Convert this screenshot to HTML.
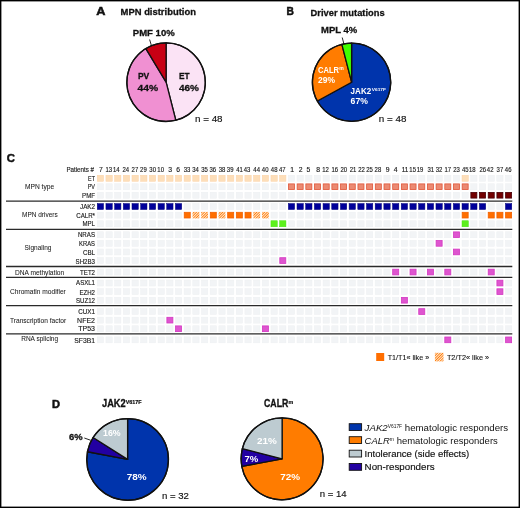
<!DOCTYPE html>
<html><head><meta charset="utf-8"><style>
html,body{margin:0;padding:0;background:#fff;}
body{width:520px;height:508px;overflow:hidden;}
svg{display:block;will-change:transform;}
</style></head><body>
<svg width="520" height="508" viewBox="0 0 520 508" font-family="Liberation Sans, sans-serif">
<rect x="0" y="0" width="520" height="508" fill="#fff"/>
<text x="96.2" y="15.2" font-size="11.0" font-weight="bold" text-anchor="start" fill="#111" stroke="#111" stroke-width="0.5" textLength="9.2" lengthAdjust="spacingAndGlyphs" >A</text>
<text x="120.6" y="14.9" font-size="9.9" font-weight="bold" text-anchor="start" fill="#111" stroke="#111" stroke-width="0.3" textLength="75.3" lengthAdjust="spacingAndGlyphs" >MPN distribution</text>
<path d="M166.10,82.20L166.10,42.95A39.25,39.25 0 0 1 175.79,120.23Z" fill="#fbe3f5" stroke="#111" stroke-width="1.3" stroke-linejoin="round"/>
<path d="M166.10,82.20L175.79,120.23A39.25,39.25 0 0 1 145.88,48.56Z" fill="#f090d2" stroke="#111" stroke-width="1.3" stroke-linejoin="round"/>
<path d="M166.10,82.20L145.88,48.56A39.25,39.25 0 0 1 166.10,42.95Z" fill="#c80014" stroke="#111" stroke-width="1.3" stroke-linejoin="round"/>
<circle cx="166.1" cy="82.2" r="39.25" fill="none" stroke="#111" stroke-width="1.3"/>
<text x="132.8" y="36.4" font-size="9.2" font-weight="bold" text-anchor="start" fill="#111" stroke="#111" stroke-width="0.3" textLength="41.9" lengthAdjust="spacingAndGlyphs" >PMF 10%</text>
<line x1="149.6" y1="39.5" x2="151.4" y2="45.5" stroke="#111" stroke-width="0.9"/>
<text x="137.9" y="79.4" font-size="9.8" font-weight="bold" text-anchor="start" fill="#111" stroke="#111" stroke-width="0.3" textLength="11.4" lengthAdjust="spacingAndGlyphs" >PV</text>
<text x="137.6" y="90.6" font-size="9.8" font-weight="bold" text-anchor="start" fill="#111" stroke="#111" stroke-width="0.3" textLength="20.6" lengthAdjust="spacingAndGlyphs" >44%</text>
<text x="179.0" y="79.4" font-size="9.8" font-weight="bold" text-anchor="start" fill="#111" stroke="#111" stroke-width="0.3" textLength="10.6" lengthAdjust="spacingAndGlyphs" >ET</text>
<text x="178.9" y="90.6" font-size="9.8" font-weight="bold" text-anchor="start" fill="#111" stroke="#111" stroke-width="0.3" textLength="20.0" lengthAdjust="spacingAndGlyphs" >46%</text>
<text x="195.0" y="121.8" font-size="9.6" font-weight="normal" text-anchor="start" fill="#111" stroke="#111" stroke-width="0.15" textLength="27.6" lengthAdjust="spacingAndGlyphs" >n = 48</text>
<text x="286.4" y="15.2" font-size="11.0" font-weight="bold" text-anchor="start" fill="#111" stroke="#111" stroke-width="0.5" textLength="7.4" lengthAdjust="spacingAndGlyphs" >B</text>
<text x="310.6" y="16.2" font-size="9.9" font-weight="bold" text-anchor="start" fill="#111" stroke="#111" stroke-width="0.3" textLength="74.0" lengthAdjust="spacingAndGlyphs" >Driver mutations</text>
<path d="M351.60,82.20L351.60,43.10A39.1,39.1 0 1 1 317.34,101.04Z" fill="#0034ac" stroke="#111" stroke-width="1.3" stroke-linejoin="round"/>
<path d="M351.60,82.20L317.34,101.04A39.1,39.1 0 0 1 341.88,44.33Z" fill="#ff7c00" stroke="#111" stroke-width="1.3" stroke-linejoin="round"/>
<path d="M351.60,82.20L341.88,44.33A39.1,39.1 0 0 1 351.60,43.10Z" fill="#40ff00" stroke="#111" stroke-width="1.3" stroke-linejoin="round"/>
<circle cx="351.6" cy="82.2" r="39.1" fill="none" stroke="#111" stroke-width="1.3"/>
<text x="321.1" y="33.3" font-size="9.6" font-weight="bold" text-anchor="start" fill="#111" stroke="#111" stroke-width="0.3" textLength="36.2" lengthAdjust="spacingAndGlyphs" >MPL 4%</text>
<line x1="342.2" y1="37.5" x2="344" y2="44.2" stroke="#111" stroke-width="0.9"/>
<text x="318.0" y="72.7" font-size="8.9" font-weight="bold" text-anchor="start" fill="#fff" textLength="21.0" lengthAdjust="spacingAndGlyphs" >CALR</text>
<text x="339.2" y="69.6" font-size="4.6" font-weight="bold" text-anchor="start" fill="#fff" textLength="4.5" lengthAdjust="spacingAndGlyphs" >m</text>
<text x="318.0" y="82.5" font-size="8.9" font-weight="bold" text-anchor="start" fill="#fff" textLength="17.0" lengthAdjust="spacingAndGlyphs" >29%</text>
<text x="350.6" y="93.7" font-size="8.9" font-weight="bold" text-anchor="start" fill="#fff" textLength="20.6" lengthAdjust="spacingAndGlyphs" >JAK2</text>
<text x="371.8" y="90.7" font-size="4.4" font-weight="bold" text-anchor="start" fill="#fff" textLength="14.2" lengthAdjust="spacingAndGlyphs" >V617F</text>
<text x="350.6" y="103.9" font-size="8.9" font-weight="bold" text-anchor="start" fill="#fff" textLength="17.3" lengthAdjust="spacingAndGlyphs" >67%</text>
<text x="378.8" y="122.1" font-size="9.6" font-weight="normal" text-anchor="start" fill="#111" stroke="#111" stroke-width="0.15" textLength="27.6" lengthAdjust="spacingAndGlyphs" >n = 48</text>
<text x="6.8" y="161.9" font-size="11.3" font-weight="bold" text-anchor="start" fill="#111" stroke="#111" stroke-width="0.5" textLength="8.2" lengthAdjust="spacingAndGlyphs" >C</text>
<defs><pattern id="hatch" patternUnits="userSpaceOnUse" width="1.85" height="1.85" patternTransform="rotate(45)"><rect width="1.85" height="1.85" fill="#ffeedd"/><rect width="0.95" height="1.85" fill="#ff8010"/></pattern></defs>
<rect x="97.25" y="175.25" width="6.30" height="6.00" fill="#fddeb9" stroke="#fcd2a6" stroke-width="0.5"/>
<rect x="105.94" y="175.25" width="6.30" height="6.00" fill="#fddeb9" stroke="#fcd2a6" stroke-width="0.5"/>
<rect x="114.62" y="175.25" width="6.30" height="6.00" fill="#fddeb9" stroke="#fcd2a6" stroke-width="0.5"/>
<rect x="123.31" y="175.25" width="6.30" height="6.00" fill="#fddeb9" stroke="#fcd2a6" stroke-width="0.5"/>
<rect x="131.99" y="175.25" width="6.30" height="6.00" fill="#fddeb9" stroke="#fcd2a6" stroke-width="0.5"/>
<rect x="140.68" y="175.25" width="6.30" height="6.00" fill="#fddeb9" stroke="#fcd2a6" stroke-width="0.5"/>
<rect x="149.36" y="175.25" width="6.30" height="6.00" fill="#fddeb9" stroke="#fcd2a6" stroke-width="0.5"/>
<rect x="158.05" y="175.25" width="6.30" height="6.00" fill="#fddeb9" stroke="#fcd2a6" stroke-width="0.5"/>
<rect x="166.73" y="175.25" width="6.30" height="6.00" fill="#fddeb9" stroke="#fcd2a6" stroke-width="0.5"/>
<rect x="175.42" y="175.25" width="6.30" height="6.00" fill="#fddeb9" stroke="#fcd2a6" stroke-width="0.5"/>
<rect x="184.10" y="175.25" width="6.30" height="6.00" fill="#fddeb9" stroke="#fcd2a6" stroke-width="0.5"/>
<rect x="192.79" y="175.25" width="6.30" height="6.00" fill="#fddeb9" stroke="#fcd2a6" stroke-width="0.5"/>
<rect x="201.47" y="175.25" width="6.30" height="6.00" fill="#fddeb9" stroke="#fcd2a6" stroke-width="0.5"/>
<rect x="210.16" y="175.25" width="6.30" height="6.00" fill="#fddeb9" stroke="#fcd2a6" stroke-width="0.5"/>
<rect x="218.84" y="175.25" width="6.30" height="6.00" fill="#fddeb9" stroke="#fcd2a6" stroke-width="0.5"/>
<rect x="227.53" y="175.25" width="6.30" height="6.00" fill="#fddeb9" stroke="#fcd2a6" stroke-width="0.5"/>
<rect x="236.21" y="175.25" width="6.30" height="6.00" fill="#fddeb9" stroke="#fcd2a6" stroke-width="0.5"/>
<rect x="244.90" y="175.25" width="6.30" height="6.00" fill="#fddeb9" stroke="#fcd2a6" stroke-width="0.5"/>
<rect x="253.58" y="175.25" width="6.30" height="6.00" fill="#fddeb9" stroke="#fcd2a6" stroke-width="0.5"/>
<rect x="262.26" y="175.25" width="6.30" height="6.00" fill="#fddeb9" stroke="#fcd2a6" stroke-width="0.5"/>
<rect x="270.95" y="175.25" width="6.30" height="6.00" fill="#fddeb9" stroke="#fcd2a6" stroke-width="0.5"/>
<rect x="279.63" y="175.25" width="6.30" height="6.00" fill="#fddeb9" stroke="#fcd2a6" stroke-width="0.5"/>
<rect x="288.32" y="175.25" width="6.30" height="6.00" fill="#f2f4f6" stroke="#edf0f2" stroke-width="0.5"/>
<rect x="297.00" y="175.25" width="6.30" height="6.00" fill="#f2f4f6" stroke="#edf0f2" stroke-width="0.5"/>
<rect x="305.69" y="175.25" width="6.30" height="6.00" fill="#f2f4f6" stroke="#edf0f2" stroke-width="0.5"/>
<rect x="314.38" y="175.25" width="6.30" height="6.00" fill="#f2f4f6" stroke="#edf0f2" stroke-width="0.5"/>
<rect x="323.06" y="175.25" width="6.30" height="6.00" fill="#f2f4f6" stroke="#edf0f2" stroke-width="0.5"/>
<rect x="331.75" y="175.25" width="6.30" height="6.00" fill="#f2f4f6" stroke="#edf0f2" stroke-width="0.5"/>
<rect x="340.43" y="175.25" width="6.30" height="6.00" fill="#f2f4f6" stroke="#edf0f2" stroke-width="0.5"/>
<rect x="349.12" y="175.25" width="6.30" height="6.00" fill="#f2f4f6" stroke="#edf0f2" stroke-width="0.5"/>
<rect x="357.80" y="175.25" width="6.30" height="6.00" fill="#f2f4f6" stroke="#edf0f2" stroke-width="0.5"/>
<rect x="366.49" y="175.25" width="6.30" height="6.00" fill="#f2f4f6" stroke="#edf0f2" stroke-width="0.5"/>
<rect x="375.17" y="175.25" width="6.30" height="6.00" fill="#f2f4f6" stroke="#edf0f2" stroke-width="0.5"/>
<rect x="383.86" y="175.25" width="6.30" height="6.00" fill="#f2f4f6" stroke="#edf0f2" stroke-width="0.5"/>
<rect x="392.54" y="175.25" width="6.30" height="6.00" fill="#f2f4f6" stroke="#edf0f2" stroke-width="0.5"/>
<rect x="401.23" y="175.25" width="6.30" height="6.00" fill="#f2f4f6" stroke="#edf0f2" stroke-width="0.5"/>
<rect x="409.91" y="175.25" width="6.30" height="6.00" fill="#f2f4f6" stroke="#edf0f2" stroke-width="0.5"/>
<rect x="418.60" y="175.25" width="6.30" height="6.00" fill="#f2f4f6" stroke="#edf0f2" stroke-width="0.5"/>
<rect x="427.28" y="175.25" width="6.30" height="6.00" fill="#f2f4f6" stroke="#edf0f2" stroke-width="0.5"/>
<rect x="435.97" y="175.25" width="6.30" height="6.00" fill="#f2f4f6" stroke="#edf0f2" stroke-width="0.5"/>
<rect x="444.65" y="175.25" width="6.30" height="6.00" fill="#f2f4f6" stroke="#edf0f2" stroke-width="0.5"/>
<rect x="453.34" y="175.25" width="6.30" height="6.00" fill="#f2f4f6" stroke="#edf0f2" stroke-width="0.5"/>
<rect x="462.02" y="175.25" width="6.30" height="6.00" fill="#fddeb9" stroke="#fcd2a6" stroke-width="0.5"/>
<rect x="470.71" y="175.25" width="6.30" height="6.00" fill="#f2f4f6" stroke="#edf0f2" stroke-width="0.5"/>
<rect x="479.39" y="175.25" width="6.30" height="6.00" fill="#f2f4f6" stroke="#edf0f2" stroke-width="0.5"/>
<rect x="488.08" y="175.25" width="6.30" height="6.00" fill="#f2f4f6" stroke="#edf0f2" stroke-width="0.5"/>
<rect x="496.76" y="175.25" width="6.30" height="6.00" fill="#f2f4f6" stroke="#edf0f2" stroke-width="0.5"/>
<rect x="505.45" y="175.25" width="6.30" height="6.00" fill="#f2f4f6" stroke="#edf0f2" stroke-width="0.5"/>
<rect x="97.25" y="183.75" width="6.30" height="6.00" fill="#f2f4f6" stroke="#edf0f2" stroke-width="0.5"/>
<rect x="105.94" y="183.75" width="6.30" height="6.00" fill="#f2f4f6" stroke="#edf0f2" stroke-width="0.5"/>
<rect x="114.62" y="183.75" width="6.30" height="6.00" fill="#f2f4f6" stroke="#edf0f2" stroke-width="0.5"/>
<rect x="123.31" y="183.75" width="6.30" height="6.00" fill="#f2f4f6" stroke="#edf0f2" stroke-width="0.5"/>
<rect x="131.99" y="183.75" width="6.30" height="6.00" fill="#f2f4f6" stroke="#edf0f2" stroke-width="0.5"/>
<rect x="140.68" y="183.75" width="6.30" height="6.00" fill="#f2f4f6" stroke="#edf0f2" stroke-width="0.5"/>
<rect x="149.36" y="183.75" width="6.30" height="6.00" fill="#f2f4f6" stroke="#edf0f2" stroke-width="0.5"/>
<rect x="158.05" y="183.75" width="6.30" height="6.00" fill="#f2f4f6" stroke="#edf0f2" stroke-width="0.5"/>
<rect x="166.73" y="183.75" width="6.30" height="6.00" fill="#f2f4f6" stroke="#edf0f2" stroke-width="0.5"/>
<rect x="175.42" y="183.75" width="6.30" height="6.00" fill="#f2f4f6" stroke="#edf0f2" stroke-width="0.5"/>
<rect x="184.10" y="183.75" width="6.30" height="6.00" fill="#f2f4f6" stroke="#edf0f2" stroke-width="0.5"/>
<rect x="192.79" y="183.75" width="6.30" height="6.00" fill="#f2f4f6" stroke="#edf0f2" stroke-width="0.5"/>
<rect x="201.47" y="183.75" width="6.30" height="6.00" fill="#f2f4f6" stroke="#edf0f2" stroke-width="0.5"/>
<rect x="210.16" y="183.75" width="6.30" height="6.00" fill="#f2f4f6" stroke="#edf0f2" stroke-width="0.5"/>
<rect x="218.84" y="183.75" width="6.30" height="6.00" fill="#f2f4f6" stroke="#edf0f2" stroke-width="0.5"/>
<rect x="227.53" y="183.75" width="6.30" height="6.00" fill="#f2f4f6" stroke="#edf0f2" stroke-width="0.5"/>
<rect x="236.21" y="183.75" width="6.30" height="6.00" fill="#f2f4f6" stroke="#edf0f2" stroke-width="0.5"/>
<rect x="244.90" y="183.75" width="6.30" height="6.00" fill="#f2f4f6" stroke="#edf0f2" stroke-width="0.5"/>
<rect x="253.58" y="183.75" width="6.30" height="6.00" fill="#f2f4f6" stroke="#edf0f2" stroke-width="0.5"/>
<rect x="262.26" y="183.75" width="6.30" height="6.00" fill="#f2f4f6" stroke="#edf0f2" stroke-width="0.5"/>
<rect x="270.95" y="183.75" width="6.30" height="6.00" fill="#f2f4f6" stroke="#edf0f2" stroke-width="0.5"/>
<rect x="279.63" y="183.75" width="6.30" height="6.00" fill="#f2f4f6" stroke="#edf0f2" stroke-width="0.5"/>
<rect x="288.47" y="183.90" width="6.00" height="5.70" fill="#eb8a72" stroke="#e05538" stroke-width="0.8"/>
<rect x="297.15" y="183.90" width="6.00" height="5.70" fill="#eb8a72" stroke="#e05538" stroke-width="0.8"/>
<rect x="305.84" y="183.90" width="6.00" height="5.70" fill="#eb8a72" stroke="#e05538" stroke-width="0.8"/>
<rect x="314.52" y="183.90" width="6.00" height="5.70" fill="#eb8a72" stroke="#e05538" stroke-width="0.8"/>
<rect x="323.21" y="183.90" width="6.00" height="5.70" fill="#eb8a72" stroke="#e05538" stroke-width="0.8"/>
<rect x="331.89" y="183.90" width="6.00" height="5.70" fill="#eb8a72" stroke="#e05538" stroke-width="0.8"/>
<rect x="340.58" y="183.90" width="6.00" height="5.70" fill="#eb8a72" stroke="#e05538" stroke-width="0.8"/>
<rect x="349.26" y="183.90" width="6.00" height="5.70" fill="#eb8a72" stroke="#e05538" stroke-width="0.8"/>
<rect x="357.95" y="183.90" width="6.00" height="5.70" fill="#eb8a72" stroke="#e05538" stroke-width="0.8"/>
<rect x="366.63" y="183.90" width="6.00" height="5.70" fill="#eb8a72" stroke="#e05538" stroke-width="0.8"/>
<rect x="375.32" y="183.90" width="6.00" height="5.70" fill="#eb8a72" stroke="#e05538" stroke-width="0.8"/>
<rect x="384.00" y="183.90" width="6.00" height="5.70" fill="#eb8a72" stroke="#e05538" stroke-width="0.8"/>
<rect x="392.69" y="183.90" width="6.00" height="5.70" fill="#eb8a72" stroke="#e05538" stroke-width="0.8"/>
<rect x="401.38" y="183.90" width="6.00" height="5.70" fill="#eb8a72" stroke="#e05538" stroke-width="0.8"/>
<rect x="410.06" y="183.90" width="6.00" height="5.70" fill="#eb8a72" stroke="#e05538" stroke-width="0.8"/>
<rect x="418.75" y="183.90" width="6.00" height="5.70" fill="#eb8a72" stroke="#e05538" stroke-width="0.8"/>
<rect x="427.43" y="183.90" width="6.00" height="5.70" fill="#eb8a72" stroke="#e05538" stroke-width="0.8"/>
<rect x="436.12" y="183.90" width="6.00" height="5.70" fill="#eb8a72" stroke="#e05538" stroke-width="0.8"/>
<rect x="444.80" y="183.90" width="6.00" height="5.70" fill="#eb8a72" stroke="#e05538" stroke-width="0.8"/>
<rect x="453.49" y="183.90" width="6.00" height="5.70" fill="#eb8a72" stroke="#e05538" stroke-width="0.8"/>
<rect x="462.17" y="183.90" width="6.00" height="5.70" fill="#eb8a72" stroke="#e05538" stroke-width="0.8"/>
<rect x="470.71" y="183.75" width="6.30" height="6.00" fill="#f2f4f6" stroke="#edf0f2" stroke-width="0.5"/>
<rect x="479.39" y="183.75" width="6.30" height="6.00" fill="#f2f4f6" stroke="#edf0f2" stroke-width="0.5"/>
<rect x="488.08" y="183.75" width="6.30" height="6.00" fill="#f2f4f6" stroke="#edf0f2" stroke-width="0.5"/>
<rect x="496.76" y="183.75" width="6.30" height="6.00" fill="#f2f4f6" stroke="#edf0f2" stroke-width="0.5"/>
<rect x="505.45" y="183.75" width="6.30" height="6.00" fill="#f2f4f6" stroke="#edf0f2" stroke-width="0.5"/>
<rect x="97.25" y="192.25" width="6.30" height="6.00" fill="#f2f4f6" stroke="#edf0f2" stroke-width="0.5"/>
<rect x="105.94" y="192.25" width="6.30" height="6.00" fill="#f2f4f6" stroke="#edf0f2" stroke-width="0.5"/>
<rect x="114.62" y="192.25" width="6.30" height="6.00" fill="#f2f4f6" stroke="#edf0f2" stroke-width="0.5"/>
<rect x="123.31" y="192.25" width="6.30" height="6.00" fill="#f2f4f6" stroke="#edf0f2" stroke-width="0.5"/>
<rect x="131.99" y="192.25" width="6.30" height="6.00" fill="#f2f4f6" stroke="#edf0f2" stroke-width="0.5"/>
<rect x="140.68" y="192.25" width="6.30" height="6.00" fill="#f2f4f6" stroke="#edf0f2" stroke-width="0.5"/>
<rect x="149.36" y="192.25" width="6.30" height="6.00" fill="#f2f4f6" stroke="#edf0f2" stroke-width="0.5"/>
<rect x="158.05" y="192.25" width="6.30" height="6.00" fill="#f2f4f6" stroke="#edf0f2" stroke-width="0.5"/>
<rect x="166.73" y="192.25" width="6.30" height="6.00" fill="#f2f4f6" stroke="#edf0f2" stroke-width="0.5"/>
<rect x="175.42" y="192.25" width="6.30" height="6.00" fill="#f2f4f6" stroke="#edf0f2" stroke-width="0.5"/>
<rect x="184.10" y="192.25" width="6.30" height="6.00" fill="#f2f4f6" stroke="#edf0f2" stroke-width="0.5"/>
<rect x="192.79" y="192.25" width="6.30" height="6.00" fill="#f2f4f6" stroke="#edf0f2" stroke-width="0.5"/>
<rect x="201.47" y="192.25" width="6.30" height="6.00" fill="#f2f4f6" stroke="#edf0f2" stroke-width="0.5"/>
<rect x="210.16" y="192.25" width="6.30" height="6.00" fill="#f2f4f6" stroke="#edf0f2" stroke-width="0.5"/>
<rect x="218.84" y="192.25" width="6.30" height="6.00" fill="#f2f4f6" stroke="#edf0f2" stroke-width="0.5"/>
<rect x="227.53" y="192.25" width="6.30" height="6.00" fill="#f2f4f6" stroke="#edf0f2" stroke-width="0.5"/>
<rect x="236.21" y="192.25" width="6.30" height="6.00" fill="#f2f4f6" stroke="#edf0f2" stroke-width="0.5"/>
<rect x="244.90" y="192.25" width="6.30" height="6.00" fill="#f2f4f6" stroke="#edf0f2" stroke-width="0.5"/>
<rect x="253.58" y="192.25" width="6.30" height="6.00" fill="#f2f4f6" stroke="#edf0f2" stroke-width="0.5"/>
<rect x="262.26" y="192.25" width="6.30" height="6.00" fill="#f2f4f6" stroke="#edf0f2" stroke-width="0.5"/>
<rect x="270.95" y="192.25" width="6.30" height="6.00" fill="#f2f4f6" stroke="#edf0f2" stroke-width="0.5"/>
<rect x="279.63" y="192.25" width="6.30" height="6.00" fill="#f2f4f6" stroke="#edf0f2" stroke-width="0.5"/>
<rect x="288.32" y="192.25" width="6.30" height="6.00" fill="#f2f4f6" stroke="#edf0f2" stroke-width="0.5"/>
<rect x="297.00" y="192.25" width="6.30" height="6.00" fill="#f2f4f6" stroke="#edf0f2" stroke-width="0.5"/>
<rect x="305.69" y="192.25" width="6.30" height="6.00" fill="#f2f4f6" stroke="#edf0f2" stroke-width="0.5"/>
<rect x="314.38" y="192.25" width="6.30" height="6.00" fill="#f2f4f6" stroke="#edf0f2" stroke-width="0.5"/>
<rect x="323.06" y="192.25" width="6.30" height="6.00" fill="#f2f4f6" stroke="#edf0f2" stroke-width="0.5"/>
<rect x="331.75" y="192.25" width="6.30" height="6.00" fill="#f2f4f6" stroke="#edf0f2" stroke-width="0.5"/>
<rect x="340.43" y="192.25" width="6.30" height="6.00" fill="#f2f4f6" stroke="#edf0f2" stroke-width="0.5"/>
<rect x="349.12" y="192.25" width="6.30" height="6.00" fill="#f2f4f6" stroke="#edf0f2" stroke-width="0.5"/>
<rect x="357.80" y="192.25" width="6.30" height="6.00" fill="#f2f4f6" stroke="#edf0f2" stroke-width="0.5"/>
<rect x="366.49" y="192.25" width="6.30" height="6.00" fill="#f2f4f6" stroke="#edf0f2" stroke-width="0.5"/>
<rect x="375.17" y="192.25" width="6.30" height="6.00" fill="#f2f4f6" stroke="#edf0f2" stroke-width="0.5"/>
<rect x="383.86" y="192.25" width="6.30" height="6.00" fill="#f2f4f6" stroke="#edf0f2" stroke-width="0.5"/>
<rect x="392.54" y="192.25" width="6.30" height="6.00" fill="#f2f4f6" stroke="#edf0f2" stroke-width="0.5"/>
<rect x="401.23" y="192.25" width="6.30" height="6.00" fill="#f2f4f6" stroke="#edf0f2" stroke-width="0.5"/>
<rect x="409.91" y="192.25" width="6.30" height="6.00" fill="#f2f4f6" stroke="#edf0f2" stroke-width="0.5"/>
<rect x="418.60" y="192.25" width="6.30" height="6.00" fill="#f2f4f6" stroke="#edf0f2" stroke-width="0.5"/>
<rect x="427.28" y="192.25" width="6.30" height="6.00" fill="#f2f4f6" stroke="#edf0f2" stroke-width="0.5"/>
<rect x="435.97" y="192.25" width="6.30" height="6.00" fill="#f2f4f6" stroke="#edf0f2" stroke-width="0.5"/>
<rect x="444.65" y="192.25" width="6.30" height="6.00" fill="#f2f4f6" stroke="#edf0f2" stroke-width="0.5"/>
<rect x="453.34" y="192.25" width="6.30" height="6.00" fill="#f2f4f6" stroke="#edf0f2" stroke-width="0.5"/>
<rect x="462.02" y="192.25" width="6.30" height="6.00" fill="#f2f4f6" stroke="#edf0f2" stroke-width="0.5"/>
<rect x="470.86" y="192.40" width="6.00" height="5.70" fill="#730000" stroke="#4a0008" stroke-width="0.8"/>
<rect x="479.54" y="192.40" width="6.00" height="5.70" fill="#730000" stroke="#4a0008" stroke-width="0.8"/>
<rect x="488.23" y="192.40" width="6.00" height="5.70" fill="#730000" stroke="#4a0008" stroke-width="0.8"/>
<rect x="496.91" y="192.40" width="6.00" height="5.70" fill="#730000" stroke="#4a0008" stroke-width="0.8"/>
<rect x="505.60" y="192.40" width="6.00" height="5.70" fill="#730000" stroke="#4a0008" stroke-width="0.8"/>
<rect x="97.25" y="203.55" width="6.30" height="6.00" fill="#00009a" stroke="#00007a" stroke-width="0.5"/>
<rect x="105.94" y="203.55" width="6.30" height="6.00" fill="#00009a" stroke="#00007a" stroke-width="0.5"/>
<rect x="114.62" y="203.55" width="6.30" height="6.00" fill="#00009a" stroke="#00007a" stroke-width="0.5"/>
<rect x="123.31" y="203.55" width="6.30" height="6.00" fill="#00009a" stroke="#00007a" stroke-width="0.5"/>
<rect x="131.99" y="203.55" width="6.30" height="6.00" fill="#00009a" stroke="#00007a" stroke-width="0.5"/>
<rect x="140.68" y="203.55" width="6.30" height="6.00" fill="#00009a" stroke="#00007a" stroke-width="0.5"/>
<rect x="149.36" y="203.55" width="6.30" height="6.00" fill="#00009a" stroke="#00007a" stroke-width="0.5"/>
<rect x="158.05" y="203.55" width="6.30" height="6.00" fill="#00009a" stroke="#00007a" stroke-width="0.5"/>
<rect x="166.73" y="203.55" width="6.30" height="6.00" fill="#00009a" stroke="#00007a" stroke-width="0.5"/>
<rect x="175.42" y="203.55" width="6.30" height="6.00" fill="#00009a" stroke="#00007a" stroke-width="0.5"/>
<rect x="184.10" y="203.55" width="6.30" height="6.00" fill="#f2f4f6" stroke="#edf0f2" stroke-width="0.5"/>
<rect x="192.79" y="203.55" width="6.30" height="6.00" fill="#f2f4f6" stroke="#edf0f2" stroke-width="0.5"/>
<rect x="201.47" y="203.55" width="6.30" height="6.00" fill="#f2f4f6" stroke="#edf0f2" stroke-width="0.5"/>
<rect x="210.16" y="203.55" width="6.30" height="6.00" fill="#f2f4f6" stroke="#edf0f2" stroke-width="0.5"/>
<rect x="218.84" y="203.55" width="6.30" height="6.00" fill="#f2f4f6" stroke="#edf0f2" stroke-width="0.5"/>
<rect x="227.53" y="203.55" width="6.30" height="6.00" fill="#f2f4f6" stroke="#edf0f2" stroke-width="0.5"/>
<rect x="236.21" y="203.55" width="6.30" height="6.00" fill="#f2f4f6" stroke="#edf0f2" stroke-width="0.5"/>
<rect x="244.90" y="203.55" width="6.30" height="6.00" fill="#f2f4f6" stroke="#edf0f2" stroke-width="0.5"/>
<rect x="253.58" y="203.55" width="6.30" height="6.00" fill="#f2f4f6" stroke="#edf0f2" stroke-width="0.5"/>
<rect x="262.26" y="203.55" width="6.30" height="6.00" fill="#f2f4f6" stroke="#edf0f2" stroke-width="0.5"/>
<rect x="270.95" y="203.55" width="6.30" height="6.00" fill="#f2f4f6" stroke="#edf0f2" stroke-width="0.5"/>
<rect x="279.63" y="203.55" width="6.30" height="6.00" fill="#f2f4f6" stroke="#edf0f2" stroke-width="0.5"/>
<rect x="288.32" y="203.55" width="6.30" height="6.00" fill="#00009a" stroke="#00007a" stroke-width="0.5"/>
<rect x="297.00" y="203.55" width="6.30" height="6.00" fill="#00009a" stroke="#00007a" stroke-width="0.5"/>
<rect x="305.69" y="203.55" width="6.30" height="6.00" fill="#00009a" stroke="#00007a" stroke-width="0.5"/>
<rect x="314.38" y="203.55" width="6.30" height="6.00" fill="#00009a" stroke="#00007a" stroke-width="0.5"/>
<rect x="323.06" y="203.55" width="6.30" height="6.00" fill="#00009a" stroke="#00007a" stroke-width="0.5"/>
<rect x="331.75" y="203.55" width="6.30" height="6.00" fill="#00009a" stroke="#00007a" stroke-width="0.5"/>
<rect x="340.43" y="203.55" width="6.30" height="6.00" fill="#00009a" stroke="#00007a" stroke-width="0.5"/>
<rect x="349.12" y="203.55" width="6.30" height="6.00" fill="#00009a" stroke="#00007a" stroke-width="0.5"/>
<rect x="357.80" y="203.55" width="6.30" height="6.00" fill="#00009a" stroke="#00007a" stroke-width="0.5"/>
<rect x="366.49" y="203.55" width="6.30" height="6.00" fill="#00009a" stroke="#00007a" stroke-width="0.5"/>
<rect x="375.17" y="203.55" width="6.30" height="6.00" fill="#00009a" stroke="#00007a" stroke-width="0.5"/>
<rect x="383.86" y="203.55" width="6.30" height="6.00" fill="#00009a" stroke="#00007a" stroke-width="0.5"/>
<rect x="392.54" y="203.55" width="6.30" height="6.00" fill="#00009a" stroke="#00007a" stroke-width="0.5"/>
<rect x="401.23" y="203.55" width="6.30" height="6.00" fill="#00009a" stroke="#00007a" stroke-width="0.5"/>
<rect x="409.91" y="203.55" width="6.30" height="6.00" fill="#00009a" stroke="#00007a" stroke-width="0.5"/>
<rect x="418.60" y="203.55" width="6.30" height="6.00" fill="#00009a" stroke="#00007a" stroke-width="0.5"/>
<rect x="427.28" y="203.55" width="6.30" height="6.00" fill="#00009a" stroke="#00007a" stroke-width="0.5"/>
<rect x="435.97" y="203.55" width="6.30" height="6.00" fill="#00009a" stroke="#00007a" stroke-width="0.5"/>
<rect x="444.65" y="203.55" width="6.30" height="6.00" fill="#00009a" stroke="#00007a" stroke-width="0.5"/>
<rect x="453.34" y="203.55" width="6.30" height="6.00" fill="#00009a" stroke="#00007a" stroke-width="0.5"/>
<rect x="462.02" y="203.55" width="6.30" height="6.00" fill="#00009a" stroke="#00007a" stroke-width="0.5"/>
<rect x="470.71" y="203.55" width="6.30" height="6.00" fill="#00009a" stroke="#00007a" stroke-width="0.5"/>
<rect x="479.39" y="203.55" width="6.30" height="6.00" fill="#00009a" stroke="#00007a" stroke-width="0.5"/>
<rect x="488.08" y="203.55" width="6.30" height="6.00" fill="#f2f4f6" stroke="#edf0f2" stroke-width="0.5"/>
<rect x="496.76" y="203.55" width="6.30" height="6.00" fill="#f2f4f6" stroke="#edf0f2" stroke-width="0.5"/>
<rect x="505.45" y="203.55" width="6.30" height="6.00" fill="#00009a" stroke="#00007a" stroke-width="0.5"/>
<rect x="97.25" y="212.15" width="6.30" height="6.00" fill="#f2f4f6" stroke="#edf0f2" stroke-width="0.5"/>
<rect x="105.94" y="212.15" width="6.30" height="6.00" fill="#f2f4f6" stroke="#edf0f2" stroke-width="0.5"/>
<rect x="114.62" y="212.15" width="6.30" height="6.00" fill="#f2f4f6" stroke="#edf0f2" stroke-width="0.5"/>
<rect x="123.31" y="212.15" width="6.30" height="6.00" fill="#f2f4f6" stroke="#edf0f2" stroke-width="0.5"/>
<rect x="131.99" y="212.15" width="6.30" height="6.00" fill="#f2f4f6" stroke="#edf0f2" stroke-width="0.5"/>
<rect x="140.68" y="212.15" width="6.30" height="6.00" fill="#f2f4f6" stroke="#edf0f2" stroke-width="0.5"/>
<rect x="149.36" y="212.15" width="6.30" height="6.00" fill="#f2f4f6" stroke="#edf0f2" stroke-width="0.5"/>
<rect x="158.05" y="212.15" width="6.30" height="6.00" fill="#f2f4f6" stroke="#edf0f2" stroke-width="0.5"/>
<rect x="166.73" y="212.15" width="6.30" height="6.00" fill="#f2f4f6" stroke="#edf0f2" stroke-width="0.5"/>
<rect x="175.42" y="212.15" width="6.30" height="6.00" fill="#f2f4f6" stroke="#edf0f2" stroke-width="0.5"/>
<rect x="184.25" y="212.30" width="6.00" height="5.70" fill="#ff6e00" stroke="#f26000" stroke-width="0.8"/>
<rect x="192.54" y="211.9" width="6.8" height="6.5" fill="url(#hatch)"/>
<rect x="201.22" y="211.9" width="6.8" height="6.5" fill="url(#hatch)"/>
<rect x="210.31" y="212.30" width="6.00" height="5.70" fill="#ff6e00" stroke="#f26000" stroke-width="0.8"/>
<rect x="218.59" y="211.9" width="6.8" height="6.5" fill="url(#hatch)"/>
<rect x="227.68" y="212.30" width="6.00" height="5.70" fill="#ff6e00" stroke="#f26000" stroke-width="0.8"/>
<rect x="236.36" y="212.30" width="6.00" height="5.70" fill="#ff6e00" stroke="#f26000" stroke-width="0.8"/>
<rect x="245.05" y="212.30" width="6.00" height="5.70" fill="#ff6e00" stroke="#f26000" stroke-width="0.8"/>
<rect x="253.33" y="211.9" width="6.8" height="6.5" fill="url(#hatch)"/>
<rect x="262.01" y="211.9" width="6.8" height="6.5" fill="url(#hatch)"/>
<rect x="270.95" y="212.15" width="6.30" height="6.00" fill="#f2f4f6" stroke="#edf0f2" stroke-width="0.5"/>
<rect x="279.63" y="212.15" width="6.30" height="6.00" fill="#f2f4f6" stroke="#edf0f2" stroke-width="0.5"/>
<rect x="288.32" y="212.15" width="6.30" height="6.00" fill="#f2f4f6" stroke="#edf0f2" stroke-width="0.5"/>
<rect x="297.00" y="212.15" width="6.30" height="6.00" fill="#f2f4f6" stroke="#edf0f2" stroke-width="0.5"/>
<rect x="305.69" y="212.15" width="6.30" height="6.00" fill="#f2f4f6" stroke="#edf0f2" stroke-width="0.5"/>
<rect x="314.38" y="212.15" width="6.30" height="6.00" fill="#f2f4f6" stroke="#edf0f2" stroke-width="0.5"/>
<rect x="323.06" y="212.15" width="6.30" height="6.00" fill="#f2f4f6" stroke="#edf0f2" stroke-width="0.5"/>
<rect x="331.75" y="212.15" width="6.30" height="6.00" fill="#f2f4f6" stroke="#edf0f2" stroke-width="0.5"/>
<rect x="340.43" y="212.15" width="6.30" height="6.00" fill="#f2f4f6" stroke="#edf0f2" stroke-width="0.5"/>
<rect x="349.12" y="212.15" width="6.30" height="6.00" fill="#f2f4f6" stroke="#edf0f2" stroke-width="0.5"/>
<rect x="357.80" y="212.15" width="6.30" height="6.00" fill="#f2f4f6" stroke="#edf0f2" stroke-width="0.5"/>
<rect x="366.49" y="212.15" width="6.30" height="6.00" fill="#f2f4f6" stroke="#edf0f2" stroke-width="0.5"/>
<rect x="375.17" y="212.15" width="6.30" height="6.00" fill="#f2f4f6" stroke="#edf0f2" stroke-width="0.5"/>
<rect x="383.86" y="212.15" width="6.30" height="6.00" fill="#f2f4f6" stroke="#edf0f2" stroke-width="0.5"/>
<rect x="392.54" y="212.15" width="6.30" height="6.00" fill="#f2f4f6" stroke="#edf0f2" stroke-width="0.5"/>
<rect x="401.23" y="212.15" width="6.30" height="6.00" fill="#f2f4f6" stroke="#edf0f2" stroke-width="0.5"/>
<rect x="409.91" y="212.15" width="6.30" height="6.00" fill="#f2f4f6" stroke="#edf0f2" stroke-width="0.5"/>
<rect x="418.60" y="212.15" width="6.30" height="6.00" fill="#f2f4f6" stroke="#edf0f2" stroke-width="0.5"/>
<rect x="427.28" y="212.15" width="6.30" height="6.00" fill="#f2f4f6" stroke="#edf0f2" stroke-width="0.5"/>
<rect x="435.97" y="212.15" width="6.30" height="6.00" fill="#f2f4f6" stroke="#edf0f2" stroke-width="0.5"/>
<rect x="444.65" y="212.15" width="6.30" height="6.00" fill="#f2f4f6" stroke="#edf0f2" stroke-width="0.5"/>
<rect x="453.34" y="212.15" width="6.30" height="6.00" fill="#f2f4f6" stroke="#edf0f2" stroke-width="0.5"/>
<rect x="462.17" y="212.30" width="6.00" height="5.70" fill="#ff6e00" stroke="#f26000" stroke-width="0.8"/>
<rect x="470.71" y="212.15" width="6.30" height="6.00" fill="#f2f4f6" stroke="#edf0f2" stroke-width="0.5"/>
<rect x="479.39" y="212.15" width="6.30" height="6.00" fill="#f2f4f6" stroke="#edf0f2" stroke-width="0.5"/>
<rect x="488.23" y="212.30" width="6.00" height="5.70" fill="#ff6e00" stroke="#f26000" stroke-width="0.8"/>
<rect x="496.91" y="212.30" width="6.00" height="5.70" fill="#ff6e00" stroke="#f26000" stroke-width="0.8"/>
<rect x="505.60" y="212.30" width="6.00" height="5.70" fill="#ff6e00" stroke="#f26000" stroke-width="0.8"/>
<rect x="97.25" y="220.75" width="6.30" height="6.00" fill="#f2f4f6" stroke="#edf0f2" stroke-width="0.5"/>
<rect x="105.94" y="220.75" width="6.30" height="6.00" fill="#f2f4f6" stroke="#edf0f2" stroke-width="0.5"/>
<rect x="114.62" y="220.75" width="6.30" height="6.00" fill="#f2f4f6" stroke="#edf0f2" stroke-width="0.5"/>
<rect x="123.31" y="220.75" width="6.30" height="6.00" fill="#f2f4f6" stroke="#edf0f2" stroke-width="0.5"/>
<rect x="131.99" y="220.75" width="6.30" height="6.00" fill="#f2f4f6" stroke="#edf0f2" stroke-width="0.5"/>
<rect x="140.68" y="220.75" width="6.30" height="6.00" fill="#f2f4f6" stroke="#edf0f2" stroke-width="0.5"/>
<rect x="149.36" y="220.75" width="6.30" height="6.00" fill="#f2f4f6" stroke="#edf0f2" stroke-width="0.5"/>
<rect x="158.05" y="220.75" width="6.30" height="6.00" fill="#f2f4f6" stroke="#edf0f2" stroke-width="0.5"/>
<rect x="166.73" y="220.75" width="6.30" height="6.00" fill="#f2f4f6" stroke="#edf0f2" stroke-width="0.5"/>
<rect x="175.42" y="220.75" width="6.30" height="6.00" fill="#f2f4f6" stroke="#edf0f2" stroke-width="0.5"/>
<rect x="184.10" y="220.75" width="6.30" height="6.00" fill="#f2f4f6" stroke="#edf0f2" stroke-width="0.5"/>
<rect x="192.79" y="220.75" width="6.30" height="6.00" fill="#f2f4f6" stroke="#edf0f2" stroke-width="0.5"/>
<rect x="201.47" y="220.75" width="6.30" height="6.00" fill="#f2f4f6" stroke="#edf0f2" stroke-width="0.5"/>
<rect x="210.16" y="220.75" width="6.30" height="6.00" fill="#f2f4f6" stroke="#edf0f2" stroke-width="0.5"/>
<rect x="218.84" y="220.75" width="6.30" height="6.00" fill="#f2f4f6" stroke="#edf0f2" stroke-width="0.5"/>
<rect x="227.53" y="220.75" width="6.30" height="6.00" fill="#f2f4f6" stroke="#edf0f2" stroke-width="0.5"/>
<rect x="236.21" y="220.75" width="6.30" height="6.00" fill="#f2f4f6" stroke="#edf0f2" stroke-width="0.5"/>
<rect x="244.90" y="220.75" width="6.30" height="6.00" fill="#f2f4f6" stroke="#edf0f2" stroke-width="0.5"/>
<rect x="253.58" y="220.75" width="6.30" height="6.00" fill="#f2f4f6" stroke="#edf0f2" stroke-width="0.5"/>
<rect x="262.26" y="220.75" width="6.30" height="6.00" fill="#f2f4f6" stroke="#edf0f2" stroke-width="0.5"/>
<rect x="270.95" y="220.75" width="6.30" height="6.00" fill="#5cf01c" stroke="#44e010" stroke-width="0.5"/>
<rect x="279.63" y="220.75" width="6.30" height="6.00" fill="#5cf01c" stroke="#44e010" stroke-width="0.5"/>
<rect x="288.32" y="220.75" width="6.30" height="6.00" fill="#f2f4f6" stroke="#edf0f2" stroke-width="0.5"/>
<rect x="297.00" y="220.75" width="6.30" height="6.00" fill="#f2f4f6" stroke="#edf0f2" stroke-width="0.5"/>
<rect x="305.69" y="220.75" width="6.30" height="6.00" fill="#f2f4f6" stroke="#edf0f2" stroke-width="0.5"/>
<rect x="314.38" y="220.75" width="6.30" height="6.00" fill="#f2f4f6" stroke="#edf0f2" stroke-width="0.5"/>
<rect x="323.06" y="220.75" width="6.30" height="6.00" fill="#f2f4f6" stroke="#edf0f2" stroke-width="0.5"/>
<rect x="331.75" y="220.75" width="6.30" height="6.00" fill="#f2f4f6" stroke="#edf0f2" stroke-width="0.5"/>
<rect x="340.43" y="220.75" width="6.30" height="6.00" fill="#f2f4f6" stroke="#edf0f2" stroke-width="0.5"/>
<rect x="349.12" y="220.75" width="6.30" height="6.00" fill="#f2f4f6" stroke="#edf0f2" stroke-width="0.5"/>
<rect x="357.80" y="220.75" width="6.30" height="6.00" fill="#f2f4f6" stroke="#edf0f2" stroke-width="0.5"/>
<rect x="366.49" y="220.75" width="6.30" height="6.00" fill="#f2f4f6" stroke="#edf0f2" stroke-width="0.5"/>
<rect x="375.17" y="220.75" width="6.30" height="6.00" fill="#f2f4f6" stroke="#edf0f2" stroke-width="0.5"/>
<rect x="383.86" y="220.75" width="6.30" height="6.00" fill="#f2f4f6" stroke="#edf0f2" stroke-width="0.5"/>
<rect x="392.54" y="220.75" width="6.30" height="6.00" fill="#f2f4f6" stroke="#edf0f2" stroke-width="0.5"/>
<rect x="401.23" y="220.75" width="6.30" height="6.00" fill="#f2f4f6" stroke="#edf0f2" stroke-width="0.5"/>
<rect x="409.91" y="220.75" width="6.30" height="6.00" fill="#f2f4f6" stroke="#edf0f2" stroke-width="0.5"/>
<rect x="418.60" y="220.75" width="6.30" height="6.00" fill="#f2f4f6" stroke="#edf0f2" stroke-width="0.5"/>
<rect x="427.28" y="220.75" width="6.30" height="6.00" fill="#f2f4f6" stroke="#edf0f2" stroke-width="0.5"/>
<rect x="435.97" y="220.75" width="6.30" height="6.00" fill="#f2f4f6" stroke="#edf0f2" stroke-width="0.5"/>
<rect x="444.65" y="220.75" width="6.30" height="6.00" fill="#f2f4f6" stroke="#edf0f2" stroke-width="0.5"/>
<rect x="453.34" y="220.75" width="6.30" height="6.00" fill="#f2f4f6" stroke="#edf0f2" stroke-width="0.5"/>
<rect x="462.02" y="220.75" width="6.30" height="6.00" fill="#5cf01c" stroke="#44e010" stroke-width="0.5"/>
<rect x="470.71" y="220.75" width="6.30" height="6.00" fill="#f2f4f6" stroke="#edf0f2" stroke-width="0.5"/>
<rect x="479.39" y="220.75" width="6.30" height="6.00" fill="#f2f4f6" stroke="#edf0f2" stroke-width="0.5"/>
<rect x="488.08" y="220.75" width="6.30" height="6.00" fill="#f2f4f6" stroke="#edf0f2" stroke-width="0.5"/>
<rect x="496.76" y="220.75" width="6.30" height="6.00" fill="#f2f4f6" stroke="#edf0f2" stroke-width="0.5"/>
<rect x="505.45" y="220.75" width="6.30" height="6.00" fill="#f2f4f6" stroke="#edf0f2" stroke-width="0.5"/>
<rect x="97.25" y="231.75" width="6.30" height="6.00" fill="#f2f4f6" stroke="#edf0f2" stroke-width="0.5"/>
<rect x="105.94" y="231.75" width="6.30" height="6.00" fill="#f2f4f6" stroke="#edf0f2" stroke-width="0.5"/>
<rect x="114.62" y="231.75" width="6.30" height="6.00" fill="#f2f4f6" stroke="#edf0f2" stroke-width="0.5"/>
<rect x="123.31" y="231.75" width="6.30" height="6.00" fill="#f2f4f6" stroke="#edf0f2" stroke-width="0.5"/>
<rect x="131.99" y="231.75" width="6.30" height="6.00" fill="#f2f4f6" stroke="#edf0f2" stroke-width="0.5"/>
<rect x="140.68" y="231.75" width="6.30" height="6.00" fill="#f2f4f6" stroke="#edf0f2" stroke-width="0.5"/>
<rect x="149.36" y="231.75" width="6.30" height="6.00" fill="#f2f4f6" stroke="#edf0f2" stroke-width="0.5"/>
<rect x="158.05" y="231.75" width="6.30" height="6.00" fill="#f2f4f6" stroke="#edf0f2" stroke-width="0.5"/>
<rect x="166.73" y="231.75" width="6.30" height="6.00" fill="#f2f4f6" stroke="#edf0f2" stroke-width="0.5"/>
<rect x="175.42" y="231.75" width="6.30" height="6.00" fill="#f2f4f6" stroke="#edf0f2" stroke-width="0.5"/>
<rect x="184.10" y="231.75" width="6.30" height="6.00" fill="#f2f4f6" stroke="#edf0f2" stroke-width="0.5"/>
<rect x="192.79" y="231.75" width="6.30" height="6.00" fill="#f2f4f6" stroke="#edf0f2" stroke-width="0.5"/>
<rect x="201.47" y="231.75" width="6.30" height="6.00" fill="#f2f4f6" stroke="#edf0f2" stroke-width="0.5"/>
<rect x="210.16" y="231.75" width="6.30" height="6.00" fill="#f2f4f6" stroke="#edf0f2" stroke-width="0.5"/>
<rect x="218.84" y="231.75" width="6.30" height="6.00" fill="#f2f4f6" stroke="#edf0f2" stroke-width="0.5"/>
<rect x="227.53" y="231.75" width="6.30" height="6.00" fill="#f2f4f6" stroke="#edf0f2" stroke-width="0.5"/>
<rect x="236.21" y="231.75" width="6.30" height="6.00" fill="#f2f4f6" stroke="#edf0f2" stroke-width="0.5"/>
<rect x="244.90" y="231.75" width="6.30" height="6.00" fill="#f2f4f6" stroke="#edf0f2" stroke-width="0.5"/>
<rect x="253.58" y="231.75" width="6.30" height="6.00" fill="#f2f4f6" stroke="#edf0f2" stroke-width="0.5"/>
<rect x="262.26" y="231.75" width="6.30" height="6.00" fill="#f2f4f6" stroke="#edf0f2" stroke-width="0.5"/>
<rect x="270.95" y="231.75" width="6.30" height="6.00" fill="#f2f4f6" stroke="#edf0f2" stroke-width="0.5"/>
<rect x="279.63" y="231.75" width="6.30" height="6.00" fill="#f2f4f6" stroke="#edf0f2" stroke-width="0.5"/>
<rect x="288.32" y="231.75" width="6.30" height="6.00" fill="#f2f4f6" stroke="#edf0f2" stroke-width="0.5"/>
<rect x="297.00" y="231.75" width="6.30" height="6.00" fill="#f2f4f6" stroke="#edf0f2" stroke-width="0.5"/>
<rect x="305.69" y="231.75" width="6.30" height="6.00" fill="#f2f4f6" stroke="#edf0f2" stroke-width="0.5"/>
<rect x="314.38" y="231.75" width="6.30" height="6.00" fill="#f2f4f6" stroke="#edf0f2" stroke-width="0.5"/>
<rect x="323.06" y="231.75" width="6.30" height="6.00" fill="#f2f4f6" stroke="#edf0f2" stroke-width="0.5"/>
<rect x="331.75" y="231.75" width="6.30" height="6.00" fill="#f2f4f6" stroke="#edf0f2" stroke-width="0.5"/>
<rect x="340.43" y="231.75" width="6.30" height="6.00" fill="#f2f4f6" stroke="#edf0f2" stroke-width="0.5"/>
<rect x="349.12" y="231.75" width="6.30" height="6.00" fill="#f2f4f6" stroke="#edf0f2" stroke-width="0.5"/>
<rect x="357.80" y="231.75" width="6.30" height="6.00" fill="#f2f4f6" stroke="#edf0f2" stroke-width="0.5"/>
<rect x="366.49" y="231.75" width="6.30" height="6.00" fill="#f2f4f6" stroke="#edf0f2" stroke-width="0.5"/>
<rect x="375.17" y="231.75" width="6.30" height="6.00" fill="#f2f4f6" stroke="#edf0f2" stroke-width="0.5"/>
<rect x="383.86" y="231.75" width="6.30" height="6.00" fill="#f2f4f6" stroke="#edf0f2" stroke-width="0.5"/>
<rect x="392.54" y="231.75" width="6.30" height="6.00" fill="#f2f4f6" stroke="#edf0f2" stroke-width="0.5"/>
<rect x="401.23" y="231.75" width="6.30" height="6.00" fill="#f2f4f6" stroke="#edf0f2" stroke-width="0.5"/>
<rect x="409.91" y="231.75" width="6.30" height="6.00" fill="#f2f4f6" stroke="#edf0f2" stroke-width="0.5"/>
<rect x="418.60" y="231.75" width="6.30" height="6.00" fill="#f2f4f6" stroke="#edf0f2" stroke-width="0.5"/>
<rect x="427.28" y="231.75" width="6.30" height="6.00" fill="#f2f4f6" stroke="#edf0f2" stroke-width="0.5"/>
<rect x="435.97" y="231.75" width="6.30" height="6.00" fill="#f2f4f6" stroke="#edf0f2" stroke-width="0.5"/>
<rect x="444.65" y="231.75" width="6.30" height="6.00" fill="#f2f4f6" stroke="#edf0f2" stroke-width="0.5"/>
<rect x="453.49" y="231.90" width="6.00" height="5.70" fill="#de55cf" stroke="#d438c2" stroke-width="0.8"/>
<rect x="462.02" y="231.75" width="6.30" height="6.00" fill="#f2f4f6" stroke="#edf0f2" stroke-width="0.5"/>
<rect x="470.71" y="231.75" width="6.30" height="6.00" fill="#f2f4f6" stroke="#edf0f2" stroke-width="0.5"/>
<rect x="479.39" y="231.75" width="6.30" height="6.00" fill="#f2f4f6" stroke="#edf0f2" stroke-width="0.5"/>
<rect x="488.08" y="231.75" width="6.30" height="6.00" fill="#f2f4f6" stroke="#edf0f2" stroke-width="0.5"/>
<rect x="496.76" y="231.75" width="6.30" height="6.00" fill="#f2f4f6" stroke="#edf0f2" stroke-width="0.5"/>
<rect x="505.45" y="231.75" width="6.30" height="6.00" fill="#f2f4f6" stroke="#edf0f2" stroke-width="0.5"/>
<rect x="97.25" y="240.35" width="6.30" height="6.00" fill="#f2f4f6" stroke="#edf0f2" stroke-width="0.5"/>
<rect x="105.94" y="240.35" width="6.30" height="6.00" fill="#f2f4f6" stroke="#edf0f2" stroke-width="0.5"/>
<rect x="114.62" y="240.35" width="6.30" height="6.00" fill="#f2f4f6" stroke="#edf0f2" stroke-width="0.5"/>
<rect x="123.31" y="240.35" width="6.30" height="6.00" fill="#f2f4f6" stroke="#edf0f2" stroke-width="0.5"/>
<rect x="131.99" y="240.35" width="6.30" height="6.00" fill="#f2f4f6" stroke="#edf0f2" stroke-width="0.5"/>
<rect x="140.68" y="240.35" width="6.30" height="6.00" fill="#f2f4f6" stroke="#edf0f2" stroke-width="0.5"/>
<rect x="149.36" y="240.35" width="6.30" height="6.00" fill="#f2f4f6" stroke="#edf0f2" stroke-width="0.5"/>
<rect x="158.05" y="240.35" width="6.30" height="6.00" fill="#f2f4f6" stroke="#edf0f2" stroke-width="0.5"/>
<rect x="166.73" y="240.35" width="6.30" height="6.00" fill="#f2f4f6" stroke="#edf0f2" stroke-width="0.5"/>
<rect x="175.42" y="240.35" width="6.30" height="6.00" fill="#f2f4f6" stroke="#edf0f2" stroke-width="0.5"/>
<rect x="184.10" y="240.35" width="6.30" height="6.00" fill="#f2f4f6" stroke="#edf0f2" stroke-width="0.5"/>
<rect x="192.79" y="240.35" width="6.30" height="6.00" fill="#f2f4f6" stroke="#edf0f2" stroke-width="0.5"/>
<rect x="201.47" y="240.35" width="6.30" height="6.00" fill="#f2f4f6" stroke="#edf0f2" stroke-width="0.5"/>
<rect x="210.16" y="240.35" width="6.30" height="6.00" fill="#f2f4f6" stroke="#edf0f2" stroke-width="0.5"/>
<rect x="218.84" y="240.35" width="6.30" height="6.00" fill="#f2f4f6" stroke="#edf0f2" stroke-width="0.5"/>
<rect x="227.53" y="240.35" width="6.30" height="6.00" fill="#f2f4f6" stroke="#edf0f2" stroke-width="0.5"/>
<rect x="236.21" y="240.35" width="6.30" height="6.00" fill="#f2f4f6" stroke="#edf0f2" stroke-width="0.5"/>
<rect x="244.90" y="240.35" width="6.30" height="6.00" fill="#f2f4f6" stroke="#edf0f2" stroke-width="0.5"/>
<rect x="253.58" y="240.35" width="6.30" height="6.00" fill="#f2f4f6" stroke="#edf0f2" stroke-width="0.5"/>
<rect x="262.26" y="240.35" width="6.30" height="6.00" fill="#f2f4f6" stroke="#edf0f2" stroke-width="0.5"/>
<rect x="270.95" y="240.35" width="6.30" height="6.00" fill="#f2f4f6" stroke="#edf0f2" stroke-width="0.5"/>
<rect x="279.63" y="240.35" width="6.30" height="6.00" fill="#f2f4f6" stroke="#edf0f2" stroke-width="0.5"/>
<rect x="288.32" y="240.35" width="6.30" height="6.00" fill="#f2f4f6" stroke="#edf0f2" stroke-width="0.5"/>
<rect x="297.00" y="240.35" width="6.30" height="6.00" fill="#f2f4f6" stroke="#edf0f2" stroke-width="0.5"/>
<rect x="305.69" y="240.35" width="6.30" height="6.00" fill="#f2f4f6" stroke="#edf0f2" stroke-width="0.5"/>
<rect x="314.38" y="240.35" width="6.30" height="6.00" fill="#f2f4f6" stroke="#edf0f2" stroke-width="0.5"/>
<rect x="323.06" y="240.35" width="6.30" height="6.00" fill="#f2f4f6" stroke="#edf0f2" stroke-width="0.5"/>
<rect x="331.75" y="240.35" width="6.30" height="6.00" fill="#f2f4f6" stroke="#edf0f2" stroke-width="0.5"/>
<rect x="340.43" y="240.35" width="6.30" height="6.00" fill="#f2f4f6" stroke="#edf0f2" stroke-width="0.5"/>
<rect x="349.12" y="240.35" width="6.30" height="6.00" fill="#f2f4f6" stroke="#edf0f2" stroke-width="0.5"/>
<rect x="357.80" y="240.35" width="6.30" height="6.00" fill="#f2f4f6" stroke="#edf0f2" stroke-width="0.5"/>
<rect x="366.49" y="240.35" width="6.30" height="6.00" fill="#f2f4f6" stroke="#edf0f2" stroke-width="0.5"/>
<rect x="375.17" y="240.35" width="6.30" height="6.00" fill="#f2f4f6" stroke="#edf0f2" stroke-width="0.5"/>
<rect x="383.86" y="240.35" width="6.30" height="6.00" fill="#f2f4f6" stroke="#edf0f2" stroke-width="0.5"/>
<rect x="392.54" y="240.35" width="6.30" height="6.00" fill="#f2f4f6" stroke="#edf0f2" stroke-width="0.5"/>
<rect x="401.23" y="240.35" width="6.30" height="6.00" fill="#f2f4f6" stroke="#edf0f2" stroke-width="0.5"/>
<rect x="409.91" y="240.35" width="6.30" height="6.00" fill="#f2f4f6" stroke="#edf0f2" stroke-width="0.5"/>
<rect x="418.60" y="240.35" width="6.30" height="6.00" fill="#f2f4f6" stroke="#edf0f2" stroke-width="0.5"/>
<rect x="427.28" y="240.35" width="6.30" height="6.00" fill="#f2f4f6" stroke="#edf0f2" stroke-width="0.5"/>
<rect x="436.12" y="240.50" width="6.00" height="5.70" fill="#de55cf" stroke="#d438c2" stroke-width="0.8"/>
<rect x="444.65" y="240.35" width="6.30" height="6.00" fill="#f2f4f6" stroke="#edf0f2" stroke-width="0.5"/>
<rect x="453.34" y="240.35" width="6.30" height="6.00" fill="#f2f4f6" stroke="#edf0f2" stroke-width="0.5"/>
<rect x="462.02" y="240.35" width="6.30" height="6.00" fill="#f2f4f6" stroke="#edf0f2" stroke-width="0.5"/>
<rect x="470.71" y="240.35" width="6.30" height="6.00" fill="#f2f4f6" stroke="#edf0f2" stroke-width="0.5"/>
<rect x="479.39" y="240.35" width="6.30" height="6.00" fill="#f2f4f6" stroke="#edf0f2" stroke-width="0.5"/>
<rect x="488.08" y="240.35" width="6.30" height="6.00" fill="#f2f4f6" stroke="#edf0f2" stroke-width="0.5"/>
<rect x="496.76" y="240.35" width="6.30" height="6.00" fill="#f2f4f6" stroke="#edf0f2" stroke-width="0.5"/>
<rect x="505.45" y="240.35" width="6.30" height="6.00" fill="#f2f4f6" stroke="#edf0f2" stroke-width="0.5"/>
<rect x="97.25" y="248.95" width="6.30" height="6.00" fill="#f2f4f6" stroke="#edf0f2" stroke-width="0.5"/>
<rect x="105.94" y="248.95" width="6.30" height="6.00" fill="#f2f4f6" stroke="#edf0f2" stroke-width="0.5"/>
<rect x="114.62" y="248.95" width="6.30" height="6.00" fill="#f2f4f6" stroke="#edf0f2" stroke-width="0.5"/>
<rect x="123.31" y="248.95" width="6.30" height="6.00" fill="#f2f4f6" stroke="#edf0f2" stroke-width="0.5"/>
<rect x="131.99" y="248.95" width="6.30" height="6.00" fill="#f2f4f6" stroke="#edf0f2" stroke-width="0.5"/>
<rect x="140.68" y="248.95" width="6.30" height="6.00" fill="#f2f4f6" stroke="#edf0f2" stroke-width="0.5"/>
<rect x="149.36" y="248.95" width="6.30" height="6.00" fill="#f2f4f6" stroke="#edf0f2" stroke-width="0.5"/>
<rect x="158.05" y="248.95" width="6.30" height="6.00" fill="#f2f4f6" stroke="#edf0f2" stroke-width="0.5"/>
<rect x="166.73" y="248.95" width="6.30" height="6.00" fill="#f2f4f6" stroke="#edf0f2" stroke-width="0.5"/>
<rect x="175.42" y="248.95" width="6.30" height="6.00" fill="#f2f4f6" stroke="#edf0f2" stroke-width="0.5"/>
<rect x="184.10" y="248.95" width="6.30" height="6.00" fill="#f2f4f6" stroke="#edf0f2" stroke-width="0.5"/>
<rect x="192.79" y="248.95" width="6.30" height="6.00" fill="#f2f4f6" stroke="#edf0f2" stroke-width="0.5"/>
<rect x="201.47" y="248.95" width="6.30" height="6.00" fill="#f2f4f6" stroke="#edf0f2" stroke-width="0.5"/>
<rect x="210.16" y="248.95" width="6.30" height="6.00" fill="#f2f4f6" stroke="#edf0f2" stroke-width="0.5"/>
<rect x="218.84" y="248.95" width="6.30" height="6.00" fill="#f2f4f6" stroke="#edf0f2" stroke-width="0.5"/>
<rect x="227.53" y="248.95" width="6.30" height="6.00" fill="#f2f4f6" stroke="#edf0f2" stroke-width="0.5"/>
<rect x="236.21" y="248.95" width="6.30" height="6.00" fill="#f2f4f6" stroke="#edf0f2" stroke-width="0.5"/>
<rect x="244.90" y="248.95" width="6.30" height="6.00" fill="#f2f4f6" stroke="#edf0f2" stroke-width="0.5"/>
<rect x="253.58" y="248.95" width="6.30" height="6.00" fill="#f2f4f6" stroke="#edf0f2" stroke-width="0.5"/>
<rect x="262.26" y="248.95" width="6.30" height="6.00" fill="#f2f4f6" stroke="#edf0f2" stroke-width="0.5"/>
<rect x="270.95" y="248.95" width="6.30" height="6.00" fill="#f2f4f6" stroke="#edf0f2" stroke-width="0.5"/>
<rect x="279.63" y="248.95" width="6.30" height="6.00" fill="#f2f4f6" stroke="#edf0f2" stroke-width="0.5"/>
<rect x="288.32" y="248.95" width="6.30" height="6.00" fill="#f2f4f6" stroke="#edf0f2" stroke-width="0.5"/>
<rect x="297.00" y="248.95" width="6.30" height="6.00" fill="#f2f4f6" stroke="#edf0f2" stroke-width="0.5"/>
<rect x="305.69" y="248.95" width="6.30" height="6.00" fill="#f2f4f6" stroke="#edf0f2" stroke-width="0.5"/>
<rect x="314.38" y="248.95" width="6.30" height="6.00" fill="#f2f4f6" stroke="#edf0f2" stroke-width="0.5"/>
<rect x="323.06" y="248.95" width="6.30" height="6.00" fill="#f2f4f6" stroke="#edf0f2" stroke-width="0.5"/>
<rect x="331.75" y="248.95" width="6.30" height="6.00" fill="#f2f4f6" stroke="#edf0f2" stroke-width="0.5"/>
<rect x="340.43" y="248.95" width="6.30" height="6.00" fill="#f2f4f6" stroke="#edf0f2" stroke-width="0.5"/>
<rect x="349.12" y="248.95" width="6.30" height="6.00" fill="#f2f4f6" stroke="#edf0f2" stroke-width="0.5"/>
<rect x="357.80" y="248.95" width="6.30" height="6.00" fill="#f2f4f6" stroke="#edf0f2" stroke-width="0.5"/>
<rect x="366.49" y="248.95" width="6.30" height="6.00" fill="#f2f4f6" stroke="#edf0f2" stroke-width="0.5"/>
<rect x="375.17" y="248.95" width="6.30" height="6.00" fill="#f2f4f6" stroke="#edf0f2" stroke-width="0.5"/>
<rect x="383.86" y="248.95" width="6.30" height="6.00" fill="#f2f4f6" stroke="#edf0f2" stroke-width="0.5"/>
<rect x="392.54" y="248.95" width="6.30" height="6.00" fill="#f2f4f6" stroke="#edf0f2" stroke-width="0.5"/>
<rect x="401.23" y="248.95" width="6.30" height="6.00" fill="#f2f4f6" stroke="#edf0f2" stroke-width="0.5"/>
<rect x="409.91" y="248.95" width="6.30" height="6.00" fill="#f2f4f6" stroke="#edf0f2" stroke-width="0.5"/>
<rect x="418.60" y="248.95" width="6.30" height="6.00" fill="#f2f4f6" stroke="#edf0f2" stroke-width="0.5"/>
<rect x="427.28" y="248.95" width="6.30" height="6.00" fill="#f2f4f6" stroke="#edf0f2" stroke-width="0.5"/>
<rect x="435.97" y="248.95" width="6.30" height="6.00" fill="#f2f4f6" stroke="#edf0f2" stroke-width="0.5"/>
<rect x="444.65" y="248.95" width="6.30" height="6.00" fill="#f2f4f6" stroke="#edf0f2" stroke-width="0.5"/>
<rect x="453.49" y="249.10" width="6.00" height="5.70" fill="#de55cf" stroke="#d438c2" stroke-width="0.8"/>
<rect x="462.02" y="248.95" width="6.30" height="6.00" fill="#f2f4f6" stroke="#edf0f2" stroke-width="0.5"/>
<rect x="470.71" y="248.95" width="6.30" height="6.00" fill="#f2f4f6" stroke="#edf0f2" stroke-width="0.5"/>
<rect x="479.39" y="248.95" width="6.30" height="6.00" fill="#f2f4f6" stroke="#edf0f2" stroke-width="0.5"/>
<rect x="488.08" y="248.95" width="6.30" height="6.00" fill="#f2f4f6" stroke="#edf0f2" stroke-width="0.5"/>
<rect x="496.76" y="248.95" width="6.30" height="6.00" fill="#f2f4f6" stroke="#edf0f2" stroke-width="0.5"/>
<rect x="505.45" y="248.95" width="6.30" height="6.00" fill="#f2f4f6" stroke="#edf0f2" stroke-width="0.5"/>
<rect x="97.25" y="257.55" width="6.30" height="6.00" fill="#f2f4f6" stroke="#edf0f2" stroke-width="0.5"/>
<rect x="105.94" y="257.55" width="6.30" height="6.00" fill="#f2f4f6" stroke="#edf0f2" stroke-width="0.5"/>
<rect x="114.62" y="257.55" width="6.30" height="6.00" fill="#f2f4f6" stroke="#edf0f2" stroke-width="0.5"/>
<rect x="123.31" y="257.55" width="6.30" height="6.00" fill="#f2f4f6" stroke="#edf0f2" stroke-width="0.5"/>
<rect x="131.99" y="257.55" width="6.30" height="6.00" fill="#f2f4f6" stroke="#edf0f2" stroke-width="0.5"/>
<rect x="140.68" y="257.55" width="6.30" height="6.00" fill="#f2f4f6" stroke="#edf0f2" stroke-width="0.5"/>
<rect x="149.36" y="257.55" width="6.30" height="6.00" fill="#f2f4f6" stroke="#edf0f2" stroke-width="0.5"/>
<rect x="158.05" y="257.55" width="6.30" height="6.00" fill="#f2f4f6" stroke="#edf0f2" stroke-width="0.5"/>
<rect x="166.73" y="257.55" width="6.30" height="6.00" fill="#f2f4f6" stroke="#edf0f2" stroke-width="0.5"/>
<rect x="175.42" y="257.55" width="6.30" height="6.00" fill="#f2f4f6" stroke="#edf0f2" stroke-width="0.5"/>
<rect x="184.10" y="257.55" width="6.30" height="6.00" fill="#f2f4f6" stroke="#edf0f2" stroke-width="0.5"/>
<rect x="192.79" y="257.55" width="6.30" height="6.00" fill="#f2f4f6" stroke="#edf0f2" stroke-width="0.5"/>
<rect x="201.47" y="257.55" width="6.30" height="6.00" fill="#f2f4f6" stroke="#edf0f2" stroke-width="0.5"/>
<rect x="210.16" y="257.55" width="6.30" height="6.00" fill="#f2f4f6" stroke="#edf0f2" stroke-width="0.5"/>
<rect x="218.84" y="257.55" width="6.30" height="6.00" fill="#f2f4f6" stroke="#edf0f2" stroke-width="0.5"/>
<rect x="227.53" y="257.55" width="6.30" height="6.00" fill="#f2f4f6" stroke="#edf0f2" stroke-width="0.5"/>
<rect x="236.21" y="257.55" width="6.30" height="6.00" fill="#f2f4f6" stroke="#edf0f2" stroke-width="0.5"/>
<rect x="244.90" y="257.55" width="6.30" height="6.00" fill="#f2f4f6" stroke="#edf0f2" stroke-width="0.5"/>
<rect x="253.58" y="257.55" width="6.30" height="6.00" fill="#f2f4f6" stroke="#edf0f2" stroke-width="0.5"/>
<rect x="262.26" y="257.55" width="6.30" height="6.00" fill="#f2f4f6" stroke="#edf0f2" stroke-width="0.5"/>
<rect x="270.95" y="257.55" width="6.30" height="6.00" fill="#f2f4f6" stroke="#edf0f2" stroke-width="0.5"/>
<rect x="279.78" y="257.70" width="6.00" height="5.70" fill="#de55cf" stroke="#d438c2" stroke-width="0.8"/>
<rect x="288.32" y="257.55" width="6.30" height="6.00" fill="#f2f4f6" stroke="#edf0f2" stroke-width="0.5"/>
<rect x="297.00" y="257.55" width="6.30" height="6.00" fill="#f2f4f6" stroke="#edf0f2" stroke-width="0.5"/>
<rect x="305.69" y="257.55" width="6.30" height="6.00" fill="#f2f4f6" stroke="#edf0f2" stroke-width="0.5"/>
<rect x="314.38" y="257.55" width="6.30" height="6.00" fill="#f2f4f6" stroke="#edf0f2" stroke-width="0.5"/>
<rect x="323.06" y="257.55" width="6.30" height="6.00" fill="#f2f4f6" stroke="#edf0f2" stroke-width="0.5"/>
<rect x="331.75" y="257.55" width="6.30" height="6.00" fill="#f2f4f6" stroke="#edf0f2" stroke-width="0.5"/>
<rect x="340.43" y="257.55" width="6.30" height="6.00" fill="#f2f4f6" stroke="#edf0f2" stroke-width="0.5"/>
<rect x="349.12" y="257.55" width="6.30" height="6.00" fill="#f2f4f6" stroke="#edf0f2" stroke-width="0.5"/>
<rect x="357.80" y="257.55" width="6.30" height="6.00" fill="#f2f4f6" stroke="#edf0f2" stroke-width="0.5"/>
<rect x="366.49" y="257.55" width="6.30" height="6.00" fill="#f2f4f6" stroke="#edf0f2" stroke-width="0.5"/>
<rect x="375.17" y="257.55" width="6.30" height="6.00" fill="#f2f4f6" stroke="#edf0f2" stroke-width="0.5"/>
<rect x="383.86" y="257.55" width="6.30" height="6.00" fill="#f2f4f6" stroke="#edf0f2" stroke-width="0.5"/>
<rect x="392.54" y="257.55" width="6.30" height="6.00" fill="#f2f4f6" stroke="#edf0f2" stroke-width="0.5"/>
<rect x="401.23" y="257.55" width="6.30" height="6.00" fill="#f2f4f6" stroke="#edf0f2" stroke-width="0.5"/>
<rect x="409.91" y="257.55" width="6.30" height="6.00" fill="#f2f4f6" stroke="#edf0f2" stroke-width="0.5"/>
<rect x="418.60" y="257.55" width="6.30" height="6.00" fill="#f2f4f6" stroke="#edf0f2" stroke-width="0.5"/>
<rect x="427.28" y="257.55" width="6.30" height="6.00" fill="#f2f4f6" stroke="#edf0f2" stroke-width="0.5"/>
<rect x="435.97" y="257.55" width="6.30" height="6.00" fill="#f2f4f6" stroke="#edf0f2" stroke-width="0.5"/>
<rect x="444.65" y="257.55" width="6.30" height="6.00" fill="#f2f4f6" stroke="#edf0f2" stroke-width="0.5"/>
<rect x="453.34" y="257.55" width="6.30" height="6.00" fill="#f2f4f6" stroke="#edf0f2" stroke-width="0.5"/>
<rect x="462.02" y="257.55" width="6.30" height="6.00" fill="#f2f4f6" stroke="#edf0f2" stroke-width="0.5"/>
<rect x="470.71" y="257.55" width="6.30" height="6.00" fill="#f2f4f6" stroke="#edf0f2" stroke-width="0.5"/>
<rect x="479.39" y="257.55" width="6.30" height="6.00" fill="#f2f4f6" stroke="#edf0f2" stroke-width="0.5"/>
<rect x="488.08" y="257.55" width="6.30" height="6.00" fill="#f2f4f6" stroke="#edf0f2" stroke-width="0.5"/>
<rect x="496.76" y="257.55" width="6.30" height="6.00" fill="#f2f4f6" stroke="#edf0f2" stroke-width="0.5"/>
<rect x="505.45" y="257.55" width="6.30" height="6.00" fill="#f2f4f6" stroke="#edf0f2" stroke-width="0.5"/>
<rect x="97.25" y="269.05" width="6.30" height="6.00" fill="#f2f4f6" stroke="#edf0f2" stroke-width="0.5"/>
<rect x="105.94" y="269.05" width="6.30" height="6.00" fill="#f2f4f6" stroke="#edf0f2" stroke-width="0.5"/>
<rect x="114.62" y="269.05" width="6.30" height="6.00" fill="#f2f4f6" stroke="#edf0f2" stroke-width="0.5"/>
<rect x="123.31" y="269.05" width="6.30" height="6.00" fill="#f2f4f6" stroke="#edf0f2" stroke-width="0.5"/>
<rect x="131.99" y="269.05" width="6.30" height="6.00" fill="#f2f4f6" stroke="#edf0f2" stroke-width="0.5"/>
<rect x="140.68" y="269.05" width="6.30" height="6.00" fill="#f2f4f6" stroke="#edf0f2" stroke-width="0.5"/>
<rect x="149.36" y="269.05" width="6.30" height="6.00" fill="#f2f4f6" stroke="#edf0f2" stroke-width="0.5"/>
<rect x="158.05" y="269.05" width="6.30" height="6.00" fill="#f2f4f6" stroke="#edf0f2" stroke-width="0.5"/>
<rect x="166.73" y="269.05" width="6.30" height="6.00" fill="#f2f4f6" stroke="#edf0f2" stroke-width="0.5"/>
<rect x="175.42" y="269.05" width="6.30" height="6.00" fill="#f2f4f6" stroke="#edf0f2" stroke-width="0.5"/>
<rect x="184.10" y="269.05" width="6.30" height="6.00" fill="#f2f4f6" stroke="#edf0f2" stroke-width="0.5"/>
<rect x="192.79" y="269.05" width="6.30" height="6.00" fill="#f2f4f6" stroke="#edf0f2" stroke-width="0.5"/>
<rect x="201.47" y="269.05" width="6.30" height="6.00" fill="#f2f4f6" stroke="#edf0f2" stroke-width="0.5"/>
<rect x="210.16" y="269.05" width="6.30" height="6.00" fill="#f2f4f6" stroke="#edf0f2" stroke-width="0.5"/>
<rect x="218.84" y="269.05" width="6.30" height="6.00" fill="#f2f4f6" stroke="#edf0f2" stroke-width="0.5"/>
<rect x="227.53" y="269.05" width="6.30" height="6.00" fill="#f2f4f6" stroke="#edf0f2" stroke-width="0.5"/>
<rect x="236.21" y="269.05" width="6.30" height="6.00" fill="#f2f4f6" stroke="#edf0f2" stroke-width="0.5"/>
<rect x="244.90" y="269.05" width="6.30" height="6.00" fill="#f2f4f6" stroke="#edf0f2" stroke-width="0.5"/>
<rect x="253.58" y="269.05" width="6.30" height="6.00" fill="#f2f4f6" stroke="#edf0f2" stroke-width="0.5"/>
<rect x="262.26" y="269.05" width="6.30" height="6.00" fill="#f2f4f6" stroke="#edf0f2" stroke-width="0.5"/>
<rect x="270.95" y="269.05" width="6.30" height="6.00" fill="#f2f4f6" stroke="#edf0f2" stroke-width="0.5"/>
<rect x="279.63" y="269.05" width="6.30" height="6.00" fill="#f2f4f6" stroke="#edf0f2" stroke-width="0.5"/>
<rect x="288.32" y="269.05" width="6.30" height="6.00" fill="#f2f4f6" stroke="#edf0f2" stroke-width="0.5"/>
<rect x="297.00" y="269.05" width="6.30" height="6.00" fill="#f2f4f6" stroke="#edf0f2" stroke-width="0.5"/>
<rect x="305.69" y="269.05" width="6.30" height="6.00" fill="#f2f4f6" stroke="#edf0f2" stroke-width="0.5"/>
<rect x="314.38" y="269.05" width="6.30" height="6.00" fill="#f2f4f6" stroke="#edf0f2" stroke-width="0.5"/>
<rect x="323.06" y="269.05" width="6.30" height="6.00" fill="#f2f4f6" stroke="#edf0f2" stroke-width="0.5"/>
<rect x="331.75" y="269.05" width="6.30" height="6.00" fill="#f2f4f6" stroke="#edf0f2" stroke-width="0.5"/>
<rect x="340.43" y="269.05" width="6.30" height="6.00" fill="#f2f4f6" stroke="#edf0f2" stroke-width="0.5"/>
<rect x="349.12" y="269.05" width="6.30" height="6.00" fill="#f2f4f6" stroke="#edf0f2" stroke-width="0.5"/>
<rect x="357.80" y="269.05" width="6.30" height="6.00" fill="#f2f4f6" stroke="#edf0f2" stroke-width="0.5"/>
<rect x="366.49" y="269.05" width="6.30" height="6.00" fill="#f2f4f6" stroke="#edf0f2" stroke-width="0.5"/>
<rect x="375.17" y="269.05" width="6.30" height="6.00" fill="#f2f4f6" stroke="#edf0f2" stroke-width="0.5"/>
<rect x="383.86" y="269.05" width="6.30" height="6.00" fill="#f2f4f6" stroke="#edf0f2" stroke-width="0.5"/>
<rect x="392.69" y="269.20" width="6.00" height="5.70" fill="#de55cf" stroke="#d438c2" stroke-width="0.8"/>
<rect x="401.23" y="269.05" width="6.30" height="6.00" fill="#f2f4f6" stroke="#edf0f2" stroke-width="0.5"/>
<rect x="410.06" y="269.20" width="6.00" height="5.70" fill="#de55cf" stroke="#d438c2" stroke-width="0.8"/>
<rect x="418.60" y="269.05" width="6.30" height="6.00" fill="#f2f4f6" stroke="#edf0f2" stroke-width="0.5"/>
<rect x="427.43" y="269.20" width="6.00" height="5.70" fill="#de55cf" stroke="#d438c2" stroke-width="0.8"/>
<rect x="435.97" y="269.05" width="6.30" height="6.00" fill="#f2f4f6" stroke="#edf0f2" stroke-width="0.5"/>
<rect x="444.80" y="269.20" width="6.00" height="5.70" fill="#de55cf" stroke="#d438c2" stroke-width="0.8"/>
<rect x="453.34" y="269.05" width="6.30" height="6.00" fill="#f2f4f6" stroke="#edf0f2" stroke-width="0.5"/>
<rect x="462.02" y="269.05" width="6.30" height="6.00" fill="#f2f4f6" stroke="#edf0f2" stroke-width="0.5"/>
<rect x="470.71" y="269.05" width="6.30" height="6.00" fill="#f2f4f6" stroke="#edf0f2" stroke-width="0.5"/>
<rect x="479.39" y="269.05" width="6.30" height="6.00" fill="#f2f4f6" stroke="#edf0f2" stroke-width="0.5"/>
<rect x="488.23" y="269.20" width="6.00" height="5.70" fill="#de55cf" stroke="#d438c2" stroke-width="0.8"/>
<rect x="496.76" y="269.05" width="6.30" height="6.00" fill="#f2f4f6" stroke="#edf0f2" stroke-width="0.5"/>
<rect x="505.45" y="269.05" width="6.30" height="6.00" fill="#f2f4f6" stroke="#edf0f2" stroke-width="0.5"/>
<rect x="97.25" y="280.05" width="6.30" height="6.00" fill="#f2f4f6" stroke="#edf0f2" stroke-width="0.5"/>
<rect x="105.94" y="280.05" width="6.30" height="6.00" fill="#f2f4f6" stroke="#edf0f2" stroke-width="0.5"/>
<rect x="114.62" y="280.05" width="6.30" height="6.00" fill="#f2f4f6" stroke="#edf0f2" stroke-width="0.5"/>
<rect x="123.31" y="280.05" width="6.30" height="6.00" fill="#f2f4f6" stroke="#edf0f2" stroke-width="0.5"/>
<rect x="131.99" y="280.05" width="6.30" height="6.00" fill="#f2f4f6" stroke="#edf0f2" stroke-width="0.5"/>
<rect x="140.68" y="280.05" width="6.30" height="6.00" fill="#f2f4f6" stroke="#edf0f2" stroke-width="0.5"/>
<rect x="149.36" y="280.05" width="6.30" height="6.00" fill="#f2f4f6" stroke="#edf0f2" stroke-width="0.5"/>
<rect x="158.05" y="280.05" width="6.30" height="6.00" fill="#f2f4f6" stroke="#edf0f2" stroke-width="0.5"/>
<rect x="166.73" y="280.05" width="6.30" height="6.00" fill="#f2f4f6" stroke="#edf0f2" stroke-width="0.5"/>
<rect x="175.42" y="280.05" width="6.30" height="6.00" fill="#f2f4f6" stroke="#edf0f2" stroke-width="0.5"/>
<rect x="184.10" y="280.05" width="6.30" height="6.00" fill="#f2f4f6" stroke="#edf0f2" stroke-width="0.5"/>
<rect x="192.79" y="280.05" width="6.30" height="6.00" fill="#f2f4f6" stroke="#edf0f2" stroke-width="0.5"/>
<rect x="201.47" y="280.05" width="6.30" height="6.00" fill="#f2f4f6" stroke="#edf0f2" stroke-width="0.5"/>
<rect x="210.16" y="280.05" width="6.30" height="6.00" fill="#f2f4f6" stroke="#edf0f2" stroke-width="0.5"/>
<rect x="218.84" y="280.05" width="6.30" height="6.00" fill="#f2f4f6" stroke="#edf0f2" stroke-width="0.5"/>
<rect x="227.53" y="280.05" width="6.30" height="6.00" fill="#f2f4f6" stroke="#edf0f2" stroke-width="0.5"/>
<rect x="236.21" y="280.05" width="6.30" height="6.00" fill="#f2f4f6" stroke="#edf0f2" stroke-width="0.5"/>
<rect x="244.90" y="280.05" width="6.30" height="6.00" fill="#f2f4f6" stroke="#edf0f2" stroke-width="0.5"/>
<rect x="253.58" y="280.05" width="6.30" height="6.00" fill="#f2f4f6" stroke="#edf0f2" stroke-width="0.5"/>
<rect x="262.26" y="280.05" width="6.30" height="6.00" fill="#f2f4f6" stroke="#edf0f2" stroke-width="0.5"/>
<rect x="270.95" y="280.05" width="6.30" height="6.00" fill="#f2f4f6" stroke="#edf0f2" stroke-width="0.5"/>
<rect x="279.63" y="280.05" width="6.30" height="6.00" fill="#f2f4f6" stroke="#edf0f2" stroke-width="0.5"/>
<rect x="288.32" y="280.05" width="6.30" height="6.00" fill="#f2f4f6" stroke="#edf0f2" stroke-width="0.5"/>
<rect x="297.00" y="280.05" width="6.30" height="6.00" fill="#f2f4f6" stroke="#edf0f2" stroke-width="0.5"/>
<rect x="305.69" y="280.05" width="6.30" height="6.00" fill="#f2f4f6" stroke="#edf0f2" stroke-width="0.5"/>
<rect x="314.38" y="280.05" width="6.30" height="6.00" fill="#f2f4f6" stroke="#edf0f2" stroke-width="0.5"/>
<rect x="323.06" y="280.05" width="6.30" height="6.00" fill="#f2f4f6" stroke="#edf0f2" stroke-width="0.5"/>
<rect x="331.75" y="280.05" width="6.30" height="6.00" fill="#f2f4f6" stroke="#edf0f2" stroke-width="0.5"/>
<rect x="340.43" y="280.05" width="6.30" height="6.00" fill="#f2f4f6" stroke="#edf0f2" stroke-width="0.5"/>
<rect x="349.12" y="280.05" width="6.30" height="6.00" fill="#f2f4f6" stroke="#edf0f2" stroke-width="0.5"/>
<rect x="357.80" y="280.05" width="6.30" height="6.00" fill="#f2f4f6" stroke="#edf0f2" stroke-width="0.5"/>
<rect x="366.49" y="280.05" width="6.30" height="6.00" fill="#f2f4f6" stroke="#edf0f2" stroke-width="0.5"/>
<rect x="375.17" y="280.05" width="6.30" height="6.00" fill="#f2f4f6" stroke="#edf0f2" stroke-width="0.5"/>
<rect x="383.86" y="280.05" width="6.30" height="6.00" fill="#f2f4f6" stroke="#edf0f2" stroke-width="0.5"/>
<rect x="392.54" y="280.05" width="6.30" height="6.00" fill="#f2f4f6" stroke="#edf0f2" stroke-width="0.5"/>
<rect x="401.23" y="280.05" width="6.30" height="6.00" fill="#f2f4f6" stroke="#edf0f2" stroke-width="0.5"/>
<rect x="409.91" y="280.05" width="6.30" height="6.00" fill="#f2f4f6" stroke="#edf0f2" stroke-width="0.5"/>
<rect x="418.60" y="280.05" width="6.30" height="6.00" fill="#f2f4f6" stroke="#edf0f2" stroke-width="0.5"/>
<rect x="427.28" y="280.05" width="6.30" height="6.00" fill="#f2f4f6" stroke="#edf0f2" stroke-width="0.5"/>
<rect x="435.97" y="280.05" width="6.30" height="6.00" fill="#f2f4f6" stroke="#edf0f2" stroke-width="0.5"/>
<rect x="444.65" y="280.05" width="6.30" height="6.00" fill="#f2f4f6" stroke="#edf0f2" stroke-width="0.5"/>
<rect x="453.34" y="280.05" width="6.30" height="6.00" fill="#f2f4f6" stroke="#edf0f2" stroke-width="0.5"/>
<rect x="462.02" y="280.05" width="6.30" height="6.00" fill="#f2f4f6" stroke="#edf0f2" stroke-width="0.5"/>
<rect x="470.71" y="280.05" width="6.30" height="6.00" fill="#f2f4f6" stroke="#edf0f2" stroke-width="0.5"/>
<rect x="479.39" y="280.05" width="6.30" height="6.00" fill="#f2f4f6" stroke="#edf0f2" stroke-width="0.5"/>
<rect x="488.08" y="280.05" width="6.30" height="6.00" fill="#f2f4f6" stroke="#edf0f2" stroke-width="0.5"/>
<rect x="496.91" y="280.20" width="6.00" height="5.70" fill="#de55cf" stroke="#d438c2" stroke-width="0.8"/>
<rect x="505.45" y="280.05" width="6.30" height="6.00" fill="#f2f4f6" stroke="#edf0f2" stroke-width="0.5"/>
<rect x="97.25" y="288.65" width="6.30" height="6.00" fill="#f2f4f6" stroke="#edf0f2" stroke-width="0.5"/>
<rect x="105.94" y="288.65" width="6.30" height="6.00" fill="#f2f4f6" stroke="#edf0f2" stroke-width="0.5"/>
<rect x="114.62" y="288.65" width="6.30" height="6.00" fill="#f2f4f6" stroke="#edf0f2" stroke-width="0.5"/>
<rect x="123.31" y="288.65" width="6.30" height="6.00" fill="#f2f4f6" stroke="#edf0f2" stroke-width="0.5"/>
<rect x="131.99" y="288.65" width="6.30" height="6.00" fill="#f2f4f6" stroke="#edf0f2" stroke-width="0.5"/>
<rect x="140.68" y="288.65" width="6.30" height="6.00" fill="#f2f4f6" stroke="#edf0f2" stroke-width="0.5"/>
<rect x="149.36" y="288.65" width="6.30" height="6.00" fill="#f2f4f6" stroke="#edf0f2" stroke-width="0.5"/>
<rect x="158.05" y="288.65" width="6.30" height="6.00" fill="#f2f4f6" stroke="#edf0f2" stroke-width="0.5"/>
<rect x="166.73" y="288.65" width="6.30" height="6.00" fill="#f2f4f6" stroke="#edf0f2" stroke-width="0.5"/>
<rect x="175.42" y="288.65" width="6.30" height="6.00" fill="#f2f4f6" stroke="#edf0f2" stroke-width="0.5"/>
<rect x="184.10" y="288.65" width="6.30" height="6.00" fill="#f2f4f6" stroke="#edf0f2" stroke-width="0.5"/>
<rect x="192.79" y="288.65" width="6.30" height="6.00" fill="#f2f4f6" stroke="#edf0f2" stroke-width="0.5"/>
<rect x="201.47" y="288.65" width="6.30" height="6.00" fill="#f2f4f6" stroke="#edf0f2" stroke-width="0.5"/>
<rect x="210.16" y="288.65" width="6.30" height="6.00" fill="#f2f4f6" stroke="#edf0f2" stroke-width="0.5"/>
<rect x="218.84" y="288.65" width="6.30" height="6.00" fill="#f2f4f6" stroke="#edf0f2" stroke-width="0.5"/>
<rect x="227.53" y="288.65" width="6.30" height="6.00" fill="#f2f4f6" stroke="#edf0f2" stroke-width="0.5"/>
<rect x="236.21" y="288.65" width="6.30" height="6.00" fill="#f2f4f6" stroke="#edf0f2" stroke-width="0.5"/>
<rect x="244.90" y="288.65" width="6.30" height="6.00" fill="#f2f4f6" stroke="#edf0f2" stroke-width="0.5"/>
<rect x="253.58" y="288.65" width="6.30" height="6.00" fill="#f2f4f6" stroke="#edf0f2" stroke-width="0.5"/>
<rect x="262.26" y="288.65" width="6.30" height="6.00" fill="#f2f4f6" stroke="#edf0f2" stroke-width="0.5"/>
<rect x="270.95" y="288.65" width="6.30" height="6.00" fill="#f2f4f6" stroke="#edf0f2" stroke-width="0.5"/>
<rect x="279.63" y="288.65" width="6.30" height="6.00" fill="#f2f4f6" stroke="#edf0f2" stroke-width="0.5"/>
<rect x="288.32" y="288.65" width="6.30" height="6.00" fill="#f2f4f6" stroke="#edf0f2" stroke-width="0.5"/>
<rect x="297.00" y="288.65" width="6.30" height="6.00" fill="#f2f4f6" stroke="#edf0f2" stroke-width="0.5"/>
<rect x="305.69" y="288.65" width="6.30" height="6.00" fill="#f2f4f6" stroke="#edf0f2" stroke-width="0.5"/>
<rect x="314.38" y="288.65" width="6.30" height="6.00" fill="#f2f4f6" stroke="#edf0f2" stroke-width="0.5"/>
<rect x="323.06" y="288.65" width="6.30" height="6.00" fill="#f2f4f6" stroke="#edf0f2" stroke-width="0.5"/>
<rect x="331.75" y="288.65" width="6.30" height="6.00" fill="#f2f4f6" stroke="#edf0f2" stroke-width="0.5"/>
<rect x="340.43" y="288.65" width="6.30" height="6.00" fill="#f2f4f6" stroke="#edf0f2" stroke-width="0.5"/>
<rect x="349.12" y="288.65" width="6.30" height="6.00" fill="#f2f4f6" stroke="#edf0f2" stroke-width="0.5"/>
<rect x="357.80" y="288.65" width="6.30" height="6.00" fill="#f2f4f6" stroke="#edf0f2" stroke-width="0.5"/>
<rect x="366.49" y="288.65" width="6.30" height="6.00" fill="#f2f4f6" stroke="#edf0f2" stroke-width="0.5"/>
<rect x="375.17" y="288.65" width="6.30" height="6.00" fill="#f2f4f6" stroke="#edf0f2" stroke-width="0.5"/>
<rect x="383.86" y="288.65" width="6.30" height="6.00" fill="#f2f4f6" stroke="#edf0f2" stroke-width="0.5"/>
<rect x="392.54" y="288.65" width="6.30" height="6.00" fill="#f2f4f6" stroke="#edf0f2" stroke-width="0.5"/>
<rect x="401.23" y="288.65" width="6.30" height="6.00" fill="#f2f4f6" stroke="#edf0f2" stroke-width="0.5"/>
<rect x="409.91" y="288.65" width="6.30" height="6.00" fill="#f2f4f6" stroke="#edf0f2" stroke-width="0.5"/>
<rect x="418.60" y="288.65" width="6.30" height="6.00" fill="#f2f4f6" stroke="#edf0f2" stroke-width="0.5"/>
<rect x="427.28" y="288.65" width="6.30" height="6.00" fill="#f2f4f6" stroke="#edf0f2" stroke-width="0.5"/>
<rect x="435.97" y="288.65" width="6.30" height="6.00" fill="#f2f4f6" stroke="#edf0f2" stroke-width="0.5"/>
<rect x="444.65" y="288.65" width="6.30" height="6.00" fill="#f2f4f6" stroke="#edf0f2" stroke-width="0.5"/>
<rect x="453.34" y="288.65" width="6.30" height="6.00" fill="#f2f4f6" stroke="#edf0f2" stroke-width="0.5"/>
<rect x="462.02" y="288.65" width="6.30" height="6.00" fill="#f2f4f6" stroke="#edf0f2" stroke-width="0.5"/>
<rect x="470.71" y="288.65" width="6.30" height="6.00" fill="#f2f4f6" stroke="#edf0f2" stroke-width="0.5"/>
<rect x="479.39" y="288.65" width="6.30" height="6.00" fill="#f2f4f6" stroke="#edf0f2" stroke-width="0.5"/>
<rect x="488.08" y="288.65" width="6.30" height="6.00" fill="#f2f4f6" stroke="#edf0f2" stroke-width="0.5"/>
<rect x="496.91" y="288.80" width="6.00" height="5.70" fill="#de55cf" stroke="#d438c2" stroke-width="0.8"/>
<rect x="505.45" y="288.65" width="6.30" height="6.00" fill="#f2f4f6" stroke="#edf0f2" stroke-width="0.5"/>
<rect x="97.25" y="297.25" width="6.30" height="6.00" fill="#f2f4f6" stroke="#edf0f2" stroke-width="0.5"/>
<rect x="105.94" y="297.25" width="6.30" height="6.00" fill="#f2f4f6" stroke="#edf0f2" stroke-width="0.5"/>
<rect x="114.62" y="297.25" width="6.30" height="6.00" fill="#f2f4f6" stroke="#edf0f2" stroke-width="0.5"/>
<rect x="123.31" y="297.25" width="6.30" height="6.00" fill="#f2f4f6" stroke="#edf0f2" stroke-width="0.5"/>
<rect x="131.99" y="297.25" width="6.30" height="6.00" fill="#f2f4f6" stroke="#edf0f2" stroke-width="0.5"/>
<rect x="140.68" y="297.25" width="6.30" height="6.00" fill="#f2f4f6" stroke="#edf0f2" stroke-width="0.5"/>
<rect x="149.36" y="297.25" width="6.30" height="6.00" fill="#f2f4f6" stroke="#edf0f2" stroke-width="0.5"/>
<rect x="158.05" y="297.25" width="6.30" height="6.00" fill="#f2f4f6" stroke="#edf0f2" stroke-width="0.5"/>
<rect x="166.73" y="297.25" width="6.30" height="6.00" fill="#f2f4f6" stroke="#edf0f2" stroke-width="0.5"/>
<rect x="175.42" y="297.25" width="6.30" height="6.00" fill="#f2f4f6" stroke="#edf0f2" stroke-width="0.5"/>
<rect x="184.10" y="297.25" width="6.30" height="6.00" fill="#f2f4f6" stroke="#edf0f2" stroke-width="0.5"/>
<rect x="192.79" y="297.25" width="6.30" height="6.00" fill="#f2f4f6" stroke="#edf0f2" stroke-width="0.5"/>
<rect x="201.47" y="297.25" width="6.30" height="6.00" fill="#f2f4f6" stroke="#edf0f2" stroke-width="0.5"/>
<rect x="210.16" y="297.25" width="6.30" height="6.00" fill="#f2f4f6" stroke="#edf0f2" stroke-width="0.5"/>
<rect x="218.84" y="297.25" width="6.30" height="6.00" fill="#f2f4f6" stroke="#edf0f2" stroke-width="0.5"/>
<rect x="227.53" y="297.25" width="6.30" height="6.00" fill="#f2f4f6" stroke="#edf0f2" stroke-width="0.5"/>
<rect x="236.21" y="297.25" width="6.30" height="6.00" fill="#f2f4f6" stroke="#edf0f2" stroke-width="0.5"/>
<rect x="244.90" y="297.25" width="6.30" height="6.00" fill="#f2f4f6" stroke="#edf0f2" stroke-width="0.5"/>
<rect x="253.58" y="297.25" width="6.30" height="6.00" fill="#f2f4f6" stroke="#edf0f2" stroke-width="0.5"/>
<rect x="262.26" y="297.25" width="6.30" height="6.00" fill="#f2f4f6" stroke="#edf0f2" stroke-width="0.5"/>
<rect x="270.95" y="297.25" width="6.30" height="6.00" fill="#f2f4f6" stroke="#edf0f2" stroke-width="0.5"/>
<rect x="279.63" y="297.25" width="6.30" height="6.00" fill="#f2f4f6" stroke="#edf0f2" stroke-width="0.5"/>
<rect x="288.32" y="297.25" width="6.30" height="6.00" fill="#f2f4f6" stroke="#edf0f2" stroke-width="0.5"/>
<rect x="297.00" y="297.25" width="6.30" height="6.00" fill="#f2f4f6" stroke="#edf0f2" stroke-width="0.5"/>
<rect x="305.69" y="297.25" width="6.30" height="6.00" fill="#f2f4f6" stroke="#edf0f2" stroke-width="0.5"/>
<rect x="314.38" y="297.25" width="6.30" height="6.00" fill="#f2f4f6" stroke="#edf0f2" stroke-width="0.5"/>
<rect x="323.06" y="297.25" width="6.30" height="6.00" fill="#f2f4f6" stroke="#edf0f2" stroke-width="0.5"/>
<rect x="331.75" y="297.25" width="6.30" height="6.00" fill="#f2f4f6" stroke="#edf0f2" stroke-width="0.5"/>
<rect x="340.43" y="297.25" width="6.30" height="6.00" fill="#f2f4f6" stroke="#edf0f2" stroke-width="0.5"/>
<rect x="349.12" y="297.25" width="6.30" height="6.00" fill="#f2f4f6" stroke="#edf0f2" stroke-width="0.5"/>
<rect x="357.80" y="297.25" width="6.30" height="6.00" fill="#f2f4f6" stroke="#edf0f2" stroke-width="0.5"/>
<rect x="366.49" y="297.25" width="6.30" height="6.00" fill="#f2f4f6" stroke="#edf0f2" stroke-width="0.5"/>
<rect x="375.17" y="297.25" width="6.30" height="6.00" fill="#f2f4f6" stroke="#edf0f2" stroke-width="0.5"/>
<rect x="383.86" y="297.25" width="6.30" height="6.00" fill="#f2f4f6" stroke="#edf0f2" stroke-width="0.5"/>
<rect x="392.54" y="297.25" width="6.30" height="6.00" fill="#f2f4f6" stroke="#edf0f2" stroke-width="0.5"/>
<rect x="401.38" y="297.40" width="6.00" height="5.70" fill="#de55cf" stroke="#d438c2" stroke-width="0.8"/>
<rect x="409.91" y="297.25" width="6.30" height="6.00" fill="#f2f4f6" stroke="#edf0f2" stroke-width="0.5"/>
<rect x="418.60" y="297.25" width="6.30" height="6.00" fill="#f2f4f6" stroke="#edf0f2" stroke-width="0.5"/>
<rect x="427.28" y="297.25" width="6.30" height="6.00" fill="#f2f4f6" stroke="#edf0f2" stroke-width="0.5"/>
<rect x="435.97" y="297.25" width="6.30" height="6.00" fill="#f2f4f6" stroke="#edf0f2" stroke-width="0.5"/>
<rect x="444.65" y="297.25" width="6.30" height="6.00" fill="#f2f4f6" stroke="#edf0f2" stroke-width="0.5"/>
<rect x="453.34" y="297.25" width="6.30" height="6.00" fill="#f2f4f6" stroke="#edf0f2" stroke-width="0.5"/>
<rect x="462.02" y="297.25" width="6.30" height="6.00" fill="#f2f4f6" stroke="#edf0f2" stroke-width="0.5"/>
<rect x="470.71" y="297.25" width="6.30" height="6.00" fill="#f2f4f6" stroke="#edf0f2" stroke-width="0.5"/>
<rect x="479.39" y="297.25" width="6.30" height="6.00" fill="#f2f4f6" stroke="#edf0f2" stroke-width="0.5"/>
<rect x="488.08" y="297.25" width="6.30" height="6.00" fill="#f2f4f6" stroke="#edf0f2" stroke-width="0.5"/>
<rect x="496.76" y="297.25" width="6.30" height="6.00" fill="#f2f4f6" stroke="#edf0f2" stroke-width="0.5"/>
<rect x="505.45" y="297.25" width="6.30" height="6.00" fill="#f2f4f6" stroke="#edf0f2" stroke-width="0.5"/>
<rect x="97.25" y="308.55" width="6.30" height="6.00" fill="#f2f4f6" stroke="#edf0f2" stroke-width="0.5"/>
<rect x="105.94" y="308.55" width="6.30" height="6.00" fill="#f2f4f6" stroke="#edf0f2" stroke-width="0.5"/>
<rect x="114.62" y="308.55" width="6.30" height="6.00" fill="#f2f4f6" stroke="#edf0f2" stroke-width="0.5"/>
<rect x="123.31" y="308.55" width="6.30" height="6.00" fill="#f2f4f6" stroke="#edf0f2" stroke-width="0.5"/>
<rect x="131.99" y="308.55" width="6.30" height="6.00" fill="#f2f4f6" stroke="#edf0f2" stroke-width="0.5"/>
<rect x="140.68" y="308.55" width="6.30" height="6.00" fill="#f2f4f6" stroke="#edf0f2" stroke-width="0.5"/>
<rect x="149.36" y="308.55" width="6.30" height="6.00" fill="#f2f4f6" stroke="#edf0f2" stroke-width="0.5"/>
<rect x="158.05" y="308.55" width="6.30" height="6.00" fill="#f2f4f6" stroke="#edf0f2" stroke-width="0.5"/>
<rect x="166.73" y="308.55" width="6.30" height="6.00" fill="#f2f4f6" stroke="#edf0f2" stroke-width="0.5"/>
<rect x="175.42" y="308.55" width="6.30" height="6.00" fill="#f2f4f6" stroke="#edf0f2" stroke-width="0.5"/>
<rect x="184.10" y="308.55" width="6.30" height="6.00" fill="#f2f4f6" stroke="#edf0f2" stroke-width="0.5"/>
<rect x="192.79" y="308.55" width="6.30" height="6.00" fill="#f2f4f6" stroke="#edf0f2" stroke-width="0.5"/>
<rect x="201.47" y="308.55" width="6.30" height="6.00" fill="#f2f4f6" stroke="#edf0f2" stroke-width="0.5"/>
<rect x="210.16" y="308.55" width="6.30" height="6.00" fill="#f2f4f6" stroke="#edf0f2" stroke-width="0.5"/>
<rect x="218.84" y="308.55" width="6.30" height="6.00" fill="#f2f4f6" stroke="#edf0f2" stroke-width="0.5"/>
<rect x="227.53" y="308.55" width="6.30" height="6.00" fill="#f2f4f6" stroke="#edf0f2" stroke-width="0.5"/>
<rect x="236.21" y="308.55" width="6.30" height="6.00" fill="#f2f4f6" stroke="#edf0f2" stroke-width="0.5"/>
<rect x="244.90" y="308.55" width="6.30" height="6.00" fill="#f2f4f6" stroke="#edf0f2" stroke-width="0.5"/>
<rect x="253.58" y="308.55" width="6.30" height="6.00" fill="#f2f4f6" stroke="#edf0f2" stroke-width="0.5"/>
<rect x="262.26" y="308.55" width="6.30" height="6.00" fill="#f2f4f6" stroke="#edf0f2" stroke-width="0.5"/>
<rect x="270.95" y="308.55" width="6.30" height="6.00" fill="#f2f4f6" stroke="#edf0f2" stroke-width="0.5"/>
<rect x="279.63" y="308.55" width="6.30" height="6.00" fill="#f2f4f6" stroke="#edf0f2" stroke-width="0.5"/>
<rect x="288.32" y="308.55" width="6.30" height="6.00" fill="#f2f4f6" stroke="#edf0f2" stroke-width="0.5"/>
<rect x="297.00" y="308.55" width="6.30" height="6.00" fill="#f2f4f6" stroke="#edf0f2" stroke-width="0.5"/>
<rect x="305.69" y="308.55" width="6.30" height="6.00" fill="#f2f4f6" stroke="#edf0f2" stroke-width="0.5"/>
<rect x="314.38" y="308.55" width="6.30" height="6.00" fill="#f2f4f6" stroke="#edf0f2" stroke-width="0.5"/>
<rect x="323.06" y="308.55" width="6.30" height="6.00" fill="#f2f4f6" stroke="#edf0f2" stroke-width="0.5"/>
<rect x="331.75" y="308.55" width="6.30" height="6.00" fill="#f2f4f6" stroke="#edf0f2" stroke-width="0.5"/>
<rect x="340.43" y="308.55" width="6.30" height="6.00" fill="#f2f4f6" stroke="#edf0f2" stroke-width="0.5"/>
<rect x="349.12" y="308.55" width="6.30" height="6.00" fill="#f2f4f6" stroke="#edf0f2" stroke-width="0.5"/>
<rect x="357.80" y="308.55" width="6.30" height="6.00" fill="#f2f4f6" stroke="#edf0f2" stroke-width="0.5"/>
<rect x="366.49" y="308.55" width="6.30" height="6.00" fill="#f2f4f6" stroke="#edf0f2" stroke-width="0.5"/>
<rect x="375.17" y="308.55" width="6.30" height="6.00" fill="#f2f4f6" stroke="#edf0f2" stroke-width="0.5"/>
<rect x="383.86" y="308.55" width="6.30" height="6.00" fill="#f2f4f6" stroke="#edf0f2" stroke-width="0.5"/>
<rect x="392.54" y="308.55" width="6.30" height="6.00" fill="#f2f4f6" stroke="#edf0f2" stroke-width="0.5"/>
<rect x="401.23" y="308.55" width="6.30" height="6.00" fill="#f2f4f6" stroke="#edf0f2" stroke-width="0.5"/>
<rect x="409.91" y="308.55" width="6.30" height="6.00" fill="#f2f4f6" stroke="#edf0f2" stroke-width="0.5"/>
<rect x="418.75" y="308.70" width="6.00" height="5.70" fill="#de55cf" stroke="#d438c2" stroke-width="0.8"/>
<rect x="427.28" y="308.55" width="6.30" height="6.00" fill="#f2f4f6" stroke="#edf0f2" stroke-width="0.5"/>
<rect x="435.97" y="308.55" width="6.30" height="6.00" fill="#f2f4f6" stroke="#edf0f2" stroke-width="0.5"/>
<rect x="444.65" y="308.55" width="6.30" height="6.00" fill="#f2f4f6" stroke="#edf0f2" stroke-width="0.5"/>
<rect x="453.34" y="308.55" width="6.30" height="6.00" fill="#f2f4f6" stroke="#edf0f2" stroke-width="0.5"/>
<rect x="462.02" y="308.55" width="6.30" height="6.00" fill="#f2f4f6" stroke="#edf0f2" stroke-width="0.5"/>
<rect x="470.71" y="308.55" width="6.30" height="6.00" fill="#f2f4f6" stroke="#edf0f2" stroke-width="0.5"/>
<rect x="479.39" y="308.55" width="6.30" height="6.00" fill="#f2f4f6" stroke="#edf0f2" stroke-width="0.5"/>
<rect x="488.08" y="308.55" width="6.30" height="6.00" fill="#f2f4f6" stroke="#edf0f2" stroke-width="0.5"/>
<rect x="496.76" y="308.55" width="6.30" height="6.00" fill="#f2f4f6" stroke="#edf0f2" stroke-width="0.5"/>
<rect x="505.45" y="308.55" width="6.30" height="6.00" fill="#f2f4f6" stroke="#edf0f2" stroke-width="0.5"/>
<rect x="97.25" y="317.15" width="6.30" height="6.00" fill="#f2f4f6" stroke="#edf0f2" stroke-width="0.5"/>
<rect x="105.94" y="317.15" width="6.30" height="6.00" fill="#f2f4f6" stroke="#edf0f2" stroke-width="0.5"/>
<rect x="114.62" y="317.15" width="6.30" height="6.00" fill="#f2f4f6" stroke="#edf0f2" stroke-width="0.5"/>
<rect x="123.31" y="317.15" width="6.30" height="6.00" fill="#f2f4f6" stroke="#edf0f2" stroke-width="0.5"/>
<rect x="131.99" y="317.15" width="6.30" height="6.00" fill="#f2f4f6" stroke="#edf0f2" stroke-width="0.5"/>
<rect x="140.68" y="317.15" width="6.30" height="6.00" fill="#f2f4f6" stroke="#edf0f2" stroke-width="0.5"/>
<rect x="149.36" y="317.15" width="6.30" height="6.00" fill="#f2f4f6" stroke="#edf0f2" stroke-width="0.5"/>
<rect x="158.05" y="317.15" width="6.30" height="6.00" fill="#f2f4f6" stroke="#edf0f2" stroke-width="0.5"/>
<rect x="166.88" y="317.30" width="6.00" height="5.70" fill="#de55cf" stroke="#d438c2" stroke-width="0.8"/>
<rect x="175.42" y="317.15" width="6.30" height="6.00" fill="#f2f4f6" stroke="#edf0f2" stroke-width="0.5"/>
<rect x="184.10" y="317.15" width="6.30" height="6.00" fill="#f2f4f6" stroke="#edf0f2" stroke-width="0.5"/>
<rect x="192.79" y="317.15" width="6.30" height="6.00" fill="#f2f4f6" stroke="#edf0f2" stroke-width="0.5"/>
<rect x="201.47" y="317.15" width="6.30" height="6.00" fill="#f2f4f6" stroke="#edf0f2" stroke-width="0.5"/>
<rect x="210.16" y="317.15" width="6.30" height="6.00" fill="#f2f4f6" stroke="#edf0f2" stroke-width="0.5"/>
<rect x="218.84" y="317.15" width="6.30" height="6.00" fill="#f2f4f6" stroke="#edf0f2" stroke-width="0.5"/>
<rect x="227.53" y="317.15" width="6.30" height="6.00" fill="#f2f4f6" stroke="#edf0f2" stroke-width="0.5"/>
<rect x="236.21" y="317.15" width="6.30" height="6.00" fill="#f2f4f6" stroke="#edf0f2" stroke-width="0.5"/>
<rect x="244.90" y="317.15" width="6.30" height="6.00" fill="#f2f4f6" stroke="#edf0f2" stroke-width="0.5"/>
<rect x="253.58" y="317.15" width="6.30" height="6.00" fill="#f2f4f6" stroke="#edf0f2" stroke-width="0.5"/>
<rect x="262.26" y="317.15" width="6.30" height="6.00" fill="#f2f4f6" stroke="#edf0f2" stroke-width="0.5"/>
<rect x="270.95" y="317.15" width="6.30" height="6.00" fill="#f2f4f6" stroke="#edf0f2" stroke-width="0.5"/>
<rect x="279.63" y="317.15" width="6.30" height="6.00" fill="#f2f4f6" stroke="#edf0f2" stroke-width="0.5"/>
<rect x="288.32" y="317.15" width="6.30" height="6.00" fill="#f2f4f6" stroke="#edf0f2" stroke-width="0.5"/>
<rect x="297.00" y="317.15" width="6.30" height="6.00" fill="#f2f4f6" stroke="#edf0f2" stroke-width="0.5"/>
<rect x="305.69" y="317.15" width="6.30" height="6.00" fill="#f2f4f6" stroke="#edf0f2" stroke-width="0.5"/>
<rect x="314.38" y="317.15" width="6.30" height="6.00" fill="#f2f4f6" stroke="#edf0f2" stroke-width="0.5"/>
<rect x="323.06" y="317.15" width="6.30" height="6.00" fill="#f2f4f6" stroke="#edf0f2" stroke-width="0.5"/>
<rect x="331.75" y="317.15" width="6.30" height="6.00" fill="#f2f4f6" stroke="#edf0f2" stroke-width="0.5"/>
<rect x="340.43" y="317.15" width="6.30" height="6.00" fill="#f2f4f6" stroke="#edf0f2" stroke-width="0.5"/>
<rect x="349.12" y="317.15" width="6.30" height="6.00" fill="#f2f4f6" stroke="#edf0f2" stroke-width="0.5"/>
<rect x="357.80" y="317.15" width="6.30" height="6.00" fill="#f2f4f6" stroke="#edf0f2" stroke-width="0.5"/>
<rect x="366.49" y="317.15" width="6.30" height="6.00" fill="#f2f4f6" stroke="#edf0f2" stroke-width="0.5"/>
<rect x="375.17" y="317.15" width="6.30" height="6.00" fill="#f2f4f6" stroke="#edf0f2" stroke-width="0.5"/>
<rect x="383.86" y="317.15" width="6.30" height="6.00" fill="#f2f4f6" stroke="#edf0f2" stroke-width="0.5"/>
<rect x="392.54" y="317.15" width="6.30" height="6.00" fill="#f2f4f6" stroke="#edf0f2" stroke-width="0.5"/>
<rect x="401.23" y="317.15" width="6.30" height="6.00" fill="#f2f4f6" stroke="#edf0f2" stroke-width="0.5"/>
<rect x="409.91" y="317.15" width="6.30" height="6.00" fill="#f2f4f6" stroke="#edf0f2" stroke-width="0.5"/>
<rect x="418.60" y="317.15" width="6.30" height="6.00" fill="#f2f4f6" stroke="#edf0f2" stroke-width="0.5"/>
<rect x="427.28" y="317.15" width="6.30" height="6.00" fill="#f2f4f6" stroke="#edf0f2" stroke-width="0.5"/>
<rect x="435.97" y="317.15" width="6.30" height="6.00" fill="#f2f4f6" stroke="#edf0f2" stroke-width="0.5"/>
<rect x="444.65" y="317.15" width="6.30" height="6.00" fill="#f2f4f6" stroke="#edf0f2" stroke-width="0.5"/>
<rect x="453.34" y="317.15" width="6.30" height="6.00" fill="#f2f4f6" stroke="#edf0f2" stroke-width="0.5"/>
<rect x="462.02" y="317.15" width="6.30" height="6.00" fill="#f2f4f6" stroke="#edf0f2" stroke-width="0.5"/>
<rect x="470.71" y="317.15" width="6.30" height="6.00" fill="#f2f4f6" stroke="#edf0f2" stroke-width="0.5"/>
<rect x="479.39" y="317.15" width="6.30" height="6.00" fill="#f2f4f6" stroke="#edf0f2" stroke-width="0.5"/>
<rect x="488.08" y="317.15" width="6.30" height="6.00" fill="#f2f4f6" stroke="#edf0f2" stroke-width="0.5"/>
<rect x="496.76" y="317.15" width="6.30" height="6.00" fill="#f2f4f6" stroke="#edf0f2" stroke-width="0.5"/>
<rect x="505.45" y="317.15" width="6.30" height="6.00" fill="#f2f4f6" stroke="#edf0f2" stroke-width="0.5"/>
<rect x="97.25" y="325.75" width="6.30" height="6.00" fill="#f2f4f6" stroke="#edf0f2" stroke-width="0.5"/>
<rect x="105.94" y="325.75" width="6.30" height="6.00" fill="#f2f4f6" stroke="#edf0f2" stroke-width="0.5"/>
<rect x="114.62" y="325.75" width="6.30" height="6.00" fill="#f2f4f6" stroke="#edf0f2" stroke-width="0.5"/>
<rect x="123.31" y="325.75" width="6.30" height="6.00" fill="#f2f4f6" stroke="#edf0f2" stroke-width="0.5"/>
<rect x="131.99" y="325.75" width="6.30" height="6.00" fill="#f2f4f6" stroke="#edf0f2" stroke-width="0.5"/>
<rect x="140.68" y="325.75" width="6.30" height="6.00" fill="#f2f4f6" stroke="#edf0f2" stroke-width="0.5"/>
<rect x="149.36" y="325.75" width="6.30" height="6.00" fill="#f2f4f6" stroke="#edf0f2" stroke-width="0.5"/>
<rect x="158.05" y="325.75" width="6.30" height="6.00" fill="#f2f4f6" stroke="#edf0f2" stroke-width="0.5"/>
<rect x="166.73" y="325.75" width="6.30" height="6.00" fill="#f2f4f6" stroke="#edf0f2" stroke-width="0.5"/>
<rect x="175.57" y="325.90" width="6.00" height="5.70" fill="#de55cf" stroke="#d438c2" stroke-width="0.8"/>
<rect x="184.10" y="325.75" width="6.30" height="6.00" fill="#f2f4f6" stroke="#edf0f2" stroke-width="0.5"/>
<rect x="192.79" y="325.75" width="6.30" height="6.00" fill="#f2f4f6" stroke="#edf0f2" stroke-width="0.5"/>
<rect x="201.47" y="325.75" width="6.30" height="6.00" fill="#f2f4f6" stroke="#edf0f2" stroke-width="0.5"/>
<rect x="210.16" y="325.75" width="6.30" height="6.00" fill="#f2f4f6" stroke="#edf0f2" stroke-width="0.5"/>
<rect x="218.84" y="325.75" width="6.30" height="6.00" fill="#f2f4f6" stroke="#edf0f2" stroke-width="0.5"/>
<rect x="227.53" y="325.75" width="6.30" height="6.00" fill="#f2f4f6" stroke="#edf0f2" stroke-width="0.5"/>
<rect x="236.21" y="325.75" width="6.30" height="6.00" fill="#f2f4f6" stroke="#edf0f2" stroke-width="0.5"/>
<rect x="244.90" y="325.75" width="6.30" height="6.00" fill="#f2f4f6" stroke="#edf0f2" stroke-width="0.5"/>
<rect x="253.58" y="325.75" width="6.30" height="6.00" fill="#f2f4f6" stroke="#edf0f2" stroke-width="0.5"/>
<rect x="262.41" y="325.90" width="6.00" height="5.70" fill="#de55cf" stroke="#d438c2" stroke-width="0.8"/>
<rect x="270.95" y="325.75" width="6.30" height="6.00" fill="#f2f4f6" stroke="#edf0f2" stroke-width="0.5"/>
<rect x="279.63" y="325.75" width="6.30" height="6.00" fill="#f2f4f6" stroke="#edf0f2" stroke-width="0.5"/>
<rect x="288.32" y="325.75" width="6.30" height="6.00" fill="#f2f4f6" stroke="#edf0f2" stroke-width="0.5"/>
<rect x="297.00" y="325.75" width="6.30" height="6.00" fill="#f2f4f6" stroke="#edf0f2" stroke-width="0.5"/>
<rect x="305.69" y="325.75" width="6.30" height="6.00" fill="#f2f4f6" stroke="#edf0f2" stroke-width="0.5"/>
<rect x="314.38" y="325.75" width="6.30" height="6.00" fill="#f2f4f6" stroke="#edf0f2" stroke-width="0.5"/>
<rect x="323.06" y="325.75" width="6.30" height="6.00" fill="#f2f4f6" stroke="#edf0f2" stroke-width="0.5"/>
<rect x="331.75" y="325.75" width="6.30" height="6.00" fill="#f2f4f6" stroke="#edf0f2" stroke-width="0.5"/>
<rect x="340.43" y="325.75" width="6.30" height="6.00" fill="#f2f4f6" stroke="#edf0f2" stroke-width="0.5"/>
<rect x="349.12" y="325.75" width="6.30" height="6.00" fill="#f2f4f6" stroke="#edf0f2" stroke-width="0.5"/>
<rect x="357.80" y="325.75" width="6.30" height="6.00" fill="#f2f4f6" stroke="#edf0f2" stroke-width="0.5"/>
<rect x="366.49" y="325.75" width="6.30" height="6.00" fill="#f2f4f6" stroke="#edf0f2" stroke-width="0.5"/>
<rect x="375.17" y="325.75" width="6.30" height="6.00" fill="#f2f4f6" stroke="#edf0f2" stroke-width="0.5"/>
<rect x="383.86" y="325.75" width="6.30" height="6.00" fill="#f2f4f6" stroke="#edf0f2" stroke-width="0.5"/>
<rect x="392.54" y="325.75" width="6.30" height="6.00" fill="#f2f4f6" stroke="#edf0f2" stroke-width="0.5"/>
<rect x="401.23" y="325.75" width="6.30" height="6.00" fill="#f2f4f6" stroke="#edf0f2" stroke-width="0.5"/>
<rect x="409.91" y="325.75" width="6.30" height="6.00" fill="#f2f4f6" stroke="#edf0f2" stroke-width="0.5"/>
<rect x="418.60" y="325.75" width="6.30" height="6.00" fill="#f2f4f6" stroke="#edf0f2" stroke-width="0.5"/>
<rect x="427.28" y="325.75" width="6.30" height="6.00" fill="#f2f4f6" stroke="#edf0f2" stroke-width="0.5"/>
<rect x="435.97" y="325.75" width="6.30" height="6.00" fill="#f2f4f6" stroke="#edf0f2" stroke-width="0.5"/>
<rect x="444.65" y="325.75" width="6.30" height="6.00" fill="#f2f4f6" stroke="#edf0f2" stroke-width="0.5"/>
<rect x="453.34" y="325.75" width="6.30" height="6.00" fill="#f2f4f6" stroke="#edf0f2" stroke-width="0.5"/>
<rect x="462.02" y="325.75" width="6.30" height="6.00" fill="#f2f4f6" stroke="#edf0f2" stroke-width="0.5"/>
<rect x="470.71" y="325.75" width="6.30" height="6.00" fill="#f2f4f6" stroke="#edf0f2" stroke-width="0.5"/>
<rect x="479.39" y="325.75" width="6.30" height="6.00" fill="#f2f4f6" stroke="#edf0f2" stroke-width="0.5"/>
<rect x="488.08" y="325.75" width="6.30" height="6.00" fill="#f2f4f6" stroke="#edf0f2" stroke-width="0.5"/>
<rect x="496.76" y="325.75" width="6.30" height="6.00" fill="#f2f4f6" stroke="#edf0f2" stroke-width="0.5"/>
<rect x="505.45" y="325.75" width="6.30" height="6.00" fill="#f2f4f6" stroke="#edf0f2" stroke-width="0.5"/>
<rect x="97.25" y="336.85" width="6.30" height="6.00" fill="#f2f4f6" stroke="#edf0f2" stroke-width="0.5"/>
<rect x="105.94" y="336.85" width="6.30" height="6.00" fill="#f2f4f6" stroke="#edf0f2" stroke-width="0.5"/>
<rect x="114.62" y="336.85" width="6.30" height="6.00" fill="#f2f4f6" stroke="#edf0f2" stroke-width="0.5"/>
<rect x="123.31" y="336.85" width="6.30" height="6.00" fill="#f2f4f6" stroke="#edf0f2" stroke-width="0.5"/>
<rect x="131.99" y="336.85" width="6.30" height="6.00" fill="#f2f4f6" stroke="#edf0f2" stroke-width="0.5"/>
<rect x="140.68" y="336.85" width="6.30" height="6.00" fill="#f2f4f6" stroke="#edf0f2" stroke-width="0.5"/>
<rect x="149.36" y="336.85" width="6.30" height="6.00" fill="#f2f4f6" stroke="#edf0f2" stroke-width="0.5"/>
<rect x="158.05" y="336.85" width="6.30" height="6.00" fill="#f2f4f6" stroke="#edf0f2" stroke-width="0.5"/>
<rect x="166.73" y="336.85" width="6.30" height="6.00" fill="#f2f4f6" stroke="#edf0f2" stroke-width="0.5"/>
<rect x="175.42" y="336.85" width="6.30" height="6.00" fill="#f2f4f6" stroke="#edf0f2" stroke-width="0.5"/>
<rect x="184.10" y="336.85" width="6.30" height="6.00" fill="#f2f4f6" stroke="#edf0f2" stroke-width="0.5"/>
<rect x="192.79" y="336.85" width="6.30" height="6.00" fill="#f2f4f6" stroke="#edf0f2" stroke-width="0.5"/>
<rect x="201.47" y="336.85" width="6.30" height="6.00" fill="#f2f4f6" stroke="#edf0f2" stroke-width="0.5"/>
<rect x="210.16" y="336.85" width="6.30" height="6.00" fill="#f2f4f6" stroke="#edf0f2" stroke-width="0.5"/>
<rect x="218.84" y="336.85" width="6.30" height="6.00" fill="#f2f4f6" stroke="#edf0f2" stroke-width="0.5"/>
<rect x="227.53" y="336.85" width="6.30" height="6.00" fill="#f2f4f6" stroke="#edf0f2" stroke-width="0.5"/>
<rect x="236.21" y="336.85" width="6.30" height="6.00" fill="#f2f4f6" stroke="#edf0f2" stroke-width="0.5"/>
<rect x="244.90" y="336.85" width="6.30" height="6.00" fill="#f2f4f6" stroke="#edf0f2" stroke-width="0.5"/>
<rect x="253.58" y="336.85" width="6.30" height="6.00" fill="#f2f4f6" stroke="#edf0f2" stroke-width="0.5"/>
<rect x="262.26" y="336.85" width="6.30" height="6.00" fill="#f2f4f6" stroke="#edf0f2" stroke-width="0.5"/>
<rect x="270.95" y="336.85" width="6.30" height="6.00" fill="#f2f4f6" stroke="#edf0f2" stroke-width="0.5"/>
<rect x="279.63" y="336.85" width="6.30" height="6.00" fill="#f2f4f6" stroke="#edf0f2" stroke-width="0.5"/>
<rect x="288.32" y="336.85" width="6.30" height="6.00" fill="#f2f4f6" stroke="#edf0f2" stroke-width="0.5"/>
<rect x="297.00" y="336.85" width="6.30" height="6.00" fill="#f2f4f6" stroke="#edf0f2" stroke-width="0.5"/>
<rect x="305.69" y="336.85" width="6.30" height="6.00" fill="#f2f4f6" stroke="#edf0f2" stroke-width="0.5"/>
<rect x="314.38" y="336.85" width="6.30" height="6.00" fill="#f2f4f6" stroke="#edf0f2" stroke-width="0.5"/>
<rect x="323.06" y="336.85" width="6.30" height="6.00" fill="#f2f4f6" stroke="#edf0f2" stroke-width="0.5"/>
<rect x="331.75" y="336.85" width="6.30" height="6.00" fill="#f2f4f6" stroke="#edf0f2" stroke-width="0.5"/>
<rect x="340.43" y="336.85" width="6.30" height="6.00" fill="#f2f4f6" stroke="#edf0f2" stroke-width="0.5"/>
<rect x="349.12" y="336.85" width="6.30" height="6.00" fill="#f2f4f6" stroke="#edf0f2" stroke-width="0.5"/>
<rect x="357.80" y="336.85" width="6.30" height="6.00" fill="#f2f4f6" stroke="#edf0f2" stroke-width="0.5"/>
<rect x="366.49" y="336.85" width="6.30" height="6.00" fill="#f2f4f6" stroke="#edf0f2" stroke-width="0.5"/>
<rect x="375.17" y="336.85" width="6.30" height="6.00" fill="#f2f4f6" stroke="#edf0f2" stroke-width="0.5"/>
<rect x="383.86" y="336.85" width="6.30" height="6.00" fill="#f2f4f6" stroke="#edf0f2" stroke-width="0.5"/>
<rect x="392.54" y="336.85" width="6.30" height="6.00" fill="#f2f4f6" stroke="#edf0f2" stroke-width="0.5"/>
<rect x="401.23" y="336.85" width="6.30" height="6.00" fill="#f2f4f6" stroke="#edf0f2" stroke-width="0.5"/>
<rect x="409.91" y="336.85" width="6.30" height="6.00" fill="#f2f4f6" stroke="#edf0f2" stroke-width="0.5"/>
<rect x="418.60" y="336.85" width="6.30" height="6.00" fill="#f2f4f6" stroke="#edf0f2" stroke-width="0.5"/>
<rect x="427.28" y="336.85" width="6.30" height="6.00" fill="#f2f4f6" stroke="#edf0f2" stroke-width="0.5"/>
<rect x="435.97" y="336.85" width="6.30" height="6.00" fill="#f2f4f6" stroke="#edf0f2" stroke-width="0.5"/>
<rect x="444.80" y="337.00" width="6.00" height="5.70" fill="#de55cf" stroke="#d438c2" stroke-width="0.8"/>
<rect x="453.34" y="336.85" width="6.30" height="6.00" fill="#f2f4f6" stroke="#edf0f2" stroke-width="0.5"/>
<rect x="462.02" y="336.85" width="6.30" height="6.00" fill="#f2f4f6" stroke="#edf0f2" stroke-width="0.5"/>
<rect x="470.71" y="336.85" width="6.30" height="6.00" fill="#f2f4f6" stroke="#edf0f2" stroke-width="0.5"/>
<rect x="479.39" y="336.85" width="6.30" height="6.00" fill="#f2f4f6" stroke="#edf0f2" stroke-width="0.5"/>
<rect x="488.08" y="336.85" width="6.30" height="6.00" fill="#f2f4f6" stroke="#edf0f2" stroke-width="0.5"/>
<rect x="496.76" y="336.85" width="6.30" height="6.00" fill="#f2f4f6" stroke="#edf0f2" stroke-width="0.5"/>
<rect x="505.60" y="337.00" width="6.00" height="5.70" fill="#de55cf" stroke="#d438c2" stroke-width="0.8"/>
<line x1="6" y1="201.1" x2="512.3" y2="201.1" stroke="#2a2a2a" stroke-width="1.3"/>
<line x1="6" y1="229.45" x2="512.3" y2="229.45" stroke="#2a2a2a" stroke-width="1.3"/>
<line x1="6" y1="266.5" x2="512.3" y2="266.5" stroke="#2a2a2a" stroke-width="1.3"/>
<line x1="6" y1="277.3" x2="512.3" y2="277.3" stroke="#2a2a2a" stroke-width="1.3"/>
<line x1="6" y1="305.6" x2="512.3" y2="305.6" stroke="#2a2a2a" stroke-width="1.3"/>
<line x1="6" y1="333.9" x2="512.3" y2="333.9" stroke="#2a2a2a" stroke-width="1.3"/>
<text x="100.8" y="171.6" font-size="6.8" font-weight="normal" text-anchor="middle" fill="#1a1a1a" stroke="#1a1a1a" stroke-width="0.15" >7</text>
<text x="108.75" y="171.6" font-size="6.8" font-weight="normal" text-anchor="middle" fill="#1a1a1a" stroke="#1a1a1a" stroke-width="0.15" textLength="6.6" lengthAdjust="spacingAndGlyphs" >13</text>
<text x="116.25" y="171.6" font-size="6.8" font-weight="normal" text-anchor="middle" fill="#1a1a1a" stroke="#1a1a1a" stroke-width="0.15" textLength="6.6" lengthAdjust="spacingAndGlyphs" >14</text>
<text x="125.7" y="171.6" font-size="6.8" font-weight="normal" text-anchor="middle" fill="#1a1a1a" stroke="#1a1a1a" stroke-width="0.15" textLength="6.6" lengthAdjust="spacingAndGlyphs" >24</text>
<text x="134.9" y="171.6" font-size="6.8" font-weight="normal" text-anchor="middle" fill="#1a1a1a" stroke="#1a1a1a" stroke-width="0.15" textLength="6.6" lengthAdjust="spacingAndGlyphs" >27</text>
<text x="143.4" y="171.6" font-size="6.8" font-weight="normal" text-anchor="middle" fill="#1a1a1a" stroke="#1a1a1a" stroke-width="0.15" textLength="6.6" lengthAdjust="spacingAndGlyphs" >29</text>
<text x="152.65" y="171.6" font-size="6.8" font-weight="normal" text-anchor="middle" fill="#1a1a1a" stroke="#1a1a1a" stroke-width="0.15" textLength="6.6" lengthAdjust="spacingAndGlyphs" >30</text>
<text x="160.65" y="171.6" font-size="6.8" font-weight="normal" text-anchor="middle" fill="#1a1a1a" stroke="#1a1a1a" stroke-width="0.15" textLength="6.6" lengthAdjust="spacingAndGlyphs" >10</text>
<text x="170.1" y="171.6" font-size="6.8" font-weight="normal" text-anchor="middle" fill="#1a1a1a" stroke="#1a1a1a" stroke-width="0.15" >3</text>
<text x="178.2" y="171.6" font-size="6.8" font-weight="normal" text-anchor="middle" fill="#1a1a1a" stroke="#1a1a1a" stroke-width="0.15" >6</text>
<text x="187.05" y="171.6" font-size="6.8" font-weight="normal" text-anchor="middle" fill="#1a1a1a" stroke="#1a1a1a" stroke-width="0.15" textLength="6.6" lengthAdjust="spacingAndGlyphs" >33</text>
<text x="195.5" y="171.6" font-size="6.8" font-weight="normal" text-anchor="middle" fill="#1a1a1a" stroke="#1a1a1a" stroke-width="0.15" textLength="6.6" lengthAdjust="spacingAndGlyphs" >34</text>
<text x="204.5" y="171.6" font-size="6.8" font-weight="normal" text-anchor="middle" fill="#1a1a1a" stroke="#1a1a1a" stroke-width="0.15" textLength="6.6" lengthAdjust="spacingAndGlyphs" >35</text>
<text x="212.75" y="171.6" font-size="6.8" font-weight="normal" text-anchor="middle" fill="#1a1a1a" stroke="#1a1a1a" stroke-width="0.15" textLength="6.6" lengthAdjust="spacingAndGlyphs" >36</text>
<text x="222.1" y="171.6" font-size="6.8" font-weight="normal" text-anchor="middle" fill="#1a1a1a" stroke="#1a1a1a" stroke-width="0.15" textLength="6.6" lengthAdjust="spacingAndGlyphs" >38</text>
<text x="230.15" y="171.6" font-size="6.8" font-weight="normal" text-anchor="middle" fill="#1a1a1a" stroke="#1a1a1a" stroke-width="0.15" textLength="6.6" lengthAdjust="spacingAndGlyphs" >39</text>
<text x="239.45" y="171.6" font-size="6.8" font-weight="normal" text-anchor="middle" fill="#1a1a1a" stroke="#1a1a1a" stroke-width="0.15" textLength="6.6" lengthAdjust="spacingAndGlyphs" >41</text>
<text x="247.1" y="171.6" font-size="6.8" font-weight="normal" text-anchor="middle" fill="#1a1a1a" stroke="#1a1a1a" stroke-width="0.15" textLength="6.6" lengthAdjust="spacingAndGlyphs" >43</text>
<text x="256.65" y="171.6" font-size="6.8" font-weight="normal" text-anchor="middle" fill="#1a1a1a" stroke="#1a1a1a" stroke-width="0.15" textLength="6.6" lengthAdjust="spacingAndGlyphs" >44</text>
<text x="265.15" y="171.6" font-size="6.8" font-weight="normal" text-anchor="middle" fill="#1a1a1a" stroke="#1a1a1a" stroke-width="0.15" textLength="6.6" lengthAdjust="spacingAndGlyphs" >40</text>
<text x="274.15" y="171.6" font-size="6.8" font-weight="normal" text-anchor="middle" fill="#1a1a1a" stroke="#1a1a1a" stroke-width="0.15" textLength="6.6" lengthAdjust="spacingAndGlyphs" >48</text>
<text x="282.3" y="171.6" font-size="6.8" font-weight="normal" text-anchor="middle" fill="#1a1a1a" stroke="#1a1a1a" stroke-width="0.15" textLength="6.6" lengthAdjust="spacingAndGlyphs" >47</text>
<text x="292.2" y="171.6" font-size="6.8" font-weight="normal" text-anchor="middle" fill="#1a1a1a" stroke="#1a1a1a" stroke-width="0.15" >1</text>
<text x="300.6" y="171.6" font-size="6.8" font-weight="normal" text-anchor="middle" fill="#1a1a1a" stroke="#1a1a1a" stroke-width="0.15" >2</text>
<text x="308.5" y="171.6" font-size="6.8" font-weight="normal" text-anchor="middle" fill="#1a1a1a" stroke="#1a1a1a" stroke-width="0.15" >5</text>
<text x="318.05" y="171.6" font-size="6.8" font-weight="normal" text-anchor="middle" fill="#1a1a1a" stroke="#1a1a1a" stroke-width="0.15" >8</text>
<text x="325.45" y="171.6" font-size="6.8" font-weight="normal" text-anchor="middle" fill="#1a1a1a" stroke="#1a1a1a" stroke-width="0.15" textLength="6.6" lengthAdjust="spacingAndGlyphs" >12</text>
<text x="334.7" y="171.6" font-size="6.8" font-weight="normal" text-anchor="middle" fill="#1a1a1a" stroke="#1a1a1a" stroke-width="0.15" textLength="6.6" lengthAdjust="spacingAndGlyphs" >16</text>
<text x="343.75" y="171.6" font-size="6.8" font-weight="normal" text-anchor="middle" fill="#1a1a1a" stroke="#1a1a1a" stroke-width="0.15" textLength="6.6" lengthAdjust="spacingAndGlyphs" >20</text>
<text x="353.0" y="171.6" font-size="6.8" font-weight="normal" text-anchor="middle" fill="#1a1a1a" stroke="#1a1a1a" stroke-width="0.15" textLength="6.6" lengthAdjust="spacingAndGlyphs" >21</text>
<text x="361.5" y="171.6" font-size="6.8" font-weight="normal" text-anchor="middle" fill="#1a1a1a" stroke="#1a1a1a" stroke-width="0.15" textLength="6.6" lengthAdjust="spacingAndGlyphs" >22</text>
<text x="369.5" y="171.6" font-size="6.8" font-weight="normal" text-anchor="middle" fill="#1a1a1a" stroke="#1a1a1a" stroke-width="0.15" textLength="6.6" lengthAdjust="spacingAndGlyphs" >25</text>
<text x="377.9" y="171.6" font-size="6.8" font-weight="normal" text-anchor="middle" fill="#1a1a1a" stroke="#1a1a1a" stroke-width="0.15" textLength="6.6" lengthAdjust="spacingAndGlyphs" >28</text>
<text x="387.7" y="171.6" font-size="6.8" font-weight="normal" text-anchor="middle" fill="#1a1a1a" stroke="#1a1a1a" stroke-width="0.15" >9</text>
<text x="395.7" y="171.6" font-size="6.8" font-weight="normal" text-anchor="middle" fill="#1a1a1a" stroke="#1a1a1a" stroke-width="0.15" >4</text>
<text x="404.95" y="171.6" font-size="6.8" font-weight="normal" text-anchor="middle" fill="#1a1a1a" stroke="#1a1a1a" stroke-width="0.15" textLength="6.6" lengthAdjust="spacingAndGlyphs" >11</text>
<text x="412.65" y="171.6" font-size="6.8" font-weight="normal" text-anchor="middle" fill="#1a1a1a" stroke="#1a1a1a" stroke-width="0.15" textLength="6.6" lengthAdjust="spacingAndGlyphs" >15</text>
<text x="419.95" y="171.6" font-size="6.8" font-weight="normal" text-anchor="middle" fill="#1a1a1a" stroke="#1a1a1a" stroke-width="0.15" textLength="6.6" lengthAdjust="spacingAndGlyphs" >19</text>
<text x="430.7" y="171.6" font-size="6.8" font-weight="normal" text-anchor="middle" fill="#1a1a1a" stroke="#1a1a1a" stroke-width="0.15" textLength="6.6" lengthAdjust="spacingAndGlyphs" >31</text>
<text x="439.05" y="171.6" font-size="6.8" font-weight="normal" text-anchor="middle" fill="#1a1a1a" stroke="#1a1a1a" stroke-width="0.15" textLength="6.6" lengthAdjust="spacingAndGlyphs" >32</text>
<text x="447.75" y="171.6" font-size="6.8" font-weight="normal" text-anchor="middle" fill="#1a1a1a" stroke="#1a1a1a" stroke-width="0.15" textLength="6.6" lengthAdjust="spacingAndGlyphs" >17</text>
<text x="456.45" y="171.6" font-size="6.8" font-weight="normal" text-anchor="middle" fill="#1a1a1a" stroke="#1a1a1a" stroke-width="0.15" textLength="6.6" lengthAdjust="spacingAndGlyphs" >23</text>
<text x="465.2" y="171.6" font-size="6.8" font-weight="normal" text-anchor="middle" fill="#1a1a1a" stroke="#1a1a1a" stroke-width="0.15" textLength="6.6" lengthAdjust="spacingAndGlyphs" >45</text>
<text x="472.25" y="171.6" font-size="6.8" font-weight="normal" text-anchor="middle" fill="#1a1a1a" stroke="#1a1a1a" stroke-width="0.15" textLength="6.6" lengthAdjust="spacingAndGlyphs" >18</text>
<text x="482.75" y="171.6" font-size="6.8" font-weight="normal" text-anchor="middle" fill="#1a1a1a" stroke="#1a1a1a" stroke-width="0.15" textLength="6.6" lengthAdjust="spacingAndGlyphs" >26</text>
<text x="490.15" y="171.6" font-size="6.8" font-weight="normal" text-anchor="middle" fill="#1a1a1a" stroke="#1a1a1a" stroke-width="0.15" textLength="6.6" lengthAdjust="spacingAndGlyphs" >42</text>
<text x="499.9" y="171.6" font-size="6.8" font-weight="normal" text-anchor="middle" fill="#1a1a1a" stroke="#1a1a1a" stroke-width="0.15" textLength="6.6" lengthAdjust="spacingAndGlyphs" >37</text>
<text x="508.15" y="171.6" font-size="6.8" font-weight="normal" text-anchor="middle" fill="#1a1a1a" stroke="#1a1a1a" stroke-width="0.15" textLength="6.6" lengthAdjust="spacingAndGlyphs" >46</text>
<text x="66.4" y="171.5" font-size="6.8" font-weight="normal" text-anchor="start" fill="#1a1a1a" stroke="#1a1a1a" stroke-width="0.15" textLength="27.7" lengthAdjust="spacingAndGlyphs" >Patients #</text>
<text x="95.0" y="180.8" font-size="7.0" font-weight="normal" text-anchor="end" fill="#1a1a1a" stroke="#1a1a1a" stroke-width="0.15" textLength="6.9" lengthAdjust="spacingAndGlyphs" >ET</text>
<text x="95.0" y="188.8" font-size="7.0" font-weight="normal" text-anchor="end" fill="#1a1a1a" stroke="#1a1a1a" stroke-width="0.15" textLength="7.3" lengthAdjust="spacingAndGlyphs" >PV</text>
<text x="95.0" y="197.6" font-size="7.0" font-weight="normal" text-anchor="end" fill="#1a1a1a" stroke="#1a1a1a" stroke-width="0.15" textLength="12.9" lengthAdjust="spacingAndGlyphs" >PMF</text>
<text x="95.0" y="208.9" font-size="7.0" font-weight="normal" text-anchor="end" fill="#1a1a1a" stroke="#1a1a1a" stroke-width="0.15" textLength="15.0" lengthAdjust="spacingAndGlyphs" >JAK2</text>
<text x="95.0" y="217.7" font-size="7.0" font-weight="normal" text-anchor="end" fill="#1a1a1a" stroke="#1a1a1a" stroke-width="0.15" textLength="18.8" lengthAdjust="spacingAndGlyphs" >CALR*</text>
<text x="95.0" y="226.0" font-size="7.0" font-weight="normal" text-anchor="end" fill="#1a1a1a" stroke="#1a1a1a" stroke-width="0.15" textLength="12.5" lengthAdjust="spacingAndGlyphs" >MPL</text>
<text x="95.0" y="237.1" font-size="7.0" font-weight="normal" text-anchor="end" fill="#1a1a1a" stroke="#1a1a1a" stroke-width="0.15" textLength="17.1" lengthAdjust="spacingAndGlyphs" >NRAS</text>
<text x="95.0" y="245.9" font-size="7.0" font-weight="normal" text-anchor="end" fill="#1a1a1a" stroke="#1a1a1a" stroke-width="0.15" textLength="15.9" lengthAdjust="spacingAndGlyphs" >KRAS</text>
<text x="95.0" y="255.4" font-size="7.0" font-weight="normal" text-anchor="end" fill="#1a1a1a" stroke="#1a1a1a" stroke-width="0.15" textLength="12.1" lengthAdjust="spacingAndGlyphs" >CBL</text>
<text x="95.0" y="263.5" font-size="7.0" font-weight="normal" text-anchor="end" fill="#1a1a1a" stroke="#1a1a1a" stroke-width="0.15" textLength="19.4" lengthAdjust="spacingAndGlyphs" >SH2B3</text>
<text x="95.0" y="274.6" font-size="7.0" font-weight="normal" text-anchor="end" fill="#1a1a1a" stroke="#1a1a1a" stroke-width="0.15" textLength="14.9" lengthAdjust="spacingAndGlyphs" >TET2</text>
<text x="95.0" y="285.2" font-size="7.0" font-weight="normal" text-anchor="end" fill="#1a1a1a" stroke="#1a1a1a" stroke-width="0.15" textLength="18.9" lengthAdjust="spacingAndGlyphs" >ASXL1</text>
<text x="95.0" y="294.8" font-size="7.0" font-weight="normal" text-anchor="end" fill="#1a1a1a" stroke="#1a1a1a" stroke-width="0.15" textLength="15.5" lengthAdjust="spacingAndGlyphs" >EZH2</text>
<text x="95.0" y="302.8" font-size="7.0" font-weight="normal" text-anchor="end" fill="#1a1a1a" stroke="#1a1a1a" stroke-width="0.15" textLength="19.0" lengthAdjust="spacingAndGlyphs" >SUZ12</text>
<text x="95.0" y="313.5" font-size="7.0" font-weight="normal" text-anchor="end" fill="#1a1a1a" stroke="#1a1a1a" stroke-width="0.15" textLength="16.7" lengthAdjust="spacingAndGlyphs" >CUX1</text>
<text x="95.0" y="323.0" font-size="7.7" font-weight="normal" text-anchor="end" fill="#1a1a1a" stroke="#1a1a1a" stroke-width="0.15" textLength="17.9" lengthAdjust="spacingAndGlyphs" >NFE2</text>
<text x="95.0" y="331.4" font-size="7.0" font-weight="normal" text-anchor="end" fill="#1a1a1a" stroke="#1a1a1a" stroke-width="0.15" textLength="16.7" lengthAdjust="spacingAndGlyphs" >TP53</text>
<text x="95.0" y="342.6" font-size="7.4" font-weight="normal" text-anchor="end" fill="#1a1a1a" stroke="#1a1a1a" stroke-width="0.15" textLength="20.8" lengthAdjust="spacingAndGlyphs" >SF3B1</text>
<text x="25" y="188.8" font-size="7.2" font-weight="normal" text-anchor="start" fill="#1a1a1a" stroke="#1a1a1a" stroke-width="0.05" textLength="29.2" lengthAdjust="spacingAndGlyphs" >MPN type</text>
<text x="22.1" y="216.9" font-size="7.2" font-weight="normal" text-anchor="start" fill="#1a1a1a" stroke="#1a1a1a" stroke-width="0.05" textLength="35.6" lengthAdjust="spacingAndGlyphs" >MPN drivers</text>
<text x="24.6" y="250.2" font-size="7.2" font-weight="normal" text-anchor="start" fill="#1a1a1a" stroke="#1a1a1a" stroke-width="0.05" textLength="26.8" lengthAdjust="spacingAndGlyphs" >Signaling</text>
<text x="15" y="274.6" font-size="7.2" font-weight="normal" text-anchor="start" fill="#1a1a1a" stroke="#1a1a1a" stroke-width="0.05" textLength="49.2" lengthAdjust="spacingAndGlyphs" >DNA methylation</text>
<text x="10" y="293.9" font-size="7.2" font-weight="normal" text-anchor="start" fill="#1a1a1a" stroke="#1a1a1a" stroke-width="0.05" textLength="55.8" lengthAdjust="spacingAndGlyphs" >Chromatin modifier</text>
<text x="10" y="322.8" font-size="7.2" font-weight="normal" text-anchor="start" fill="#1a1a1a" stroke="#1a1a1a" stroke-width="0.05" textLength="56.2" lengthAdjust="spacingAndGlyphs" >Transcription factor</text>
<text x="21.2" y="341.2" font-size="7.2" font-weight="normal" text-anchor="start" fill="#1a1a1a" stroke="#1a1a1a" stroke-width="0.05" textLength="36.9" lengthAdjust="spacingAndGlyphs" >RNA splicing</text>
<rect x="376.2" y="353" width="8" height="8" fill="#ff6e00"/>
<text x="387.7" y="360.1" font-size="7.8" font-weight="normal" text-anchor="start" fill="#111" stroke="#111" stroke-width="0.1" textLength="41.5" lengthAdjust="spacingAndGlyphs" >T1/T1« like »</text>
<rect x="434.9" y="352.8" width="8.6" height="8.6" fill="url(#hatch)"/>
<text x="446.9" y="360.1" font-size="7.8" font-weight="normal" text-anchor="start" fill="#111" stroke="#111" stroke-width="0.1" textLength="42.3" lengthAdjust="spacingAndGlyphs" >T2/T2« like »</text>
<text x="52.0" y="408.3" font-size="11.0" font-weight="bold" text-anchor="start" fill="#111" stroke="#111" stroke-width="0.5" textLength="8.0" lengthAdjust="spacingAndGlyphs" >D</text>
<text x="102.0" y="407.0" font-size="10.0" font-weight="bold" text-anchor="start" fill="#111" stroke="#111" stroke-width="0.3" textLength="23.7" lengthAdjust="spacingAndGlyphs" >JAK2</text>
<text x="125.8" y="404.3" font-size="5.0" font-weight="bold" text-anchor="start" fill="#111" stroke="#111" stroke-width="0.2" textLength="15.8" lengthAdjust="spacingAndGlyphs" >V617F</text>
<path d="M127.60,459.40L127.60,418.55A40.85,40.85 0 1 1 87.47,451.75Z" fill="#0034ac" stroke="#111" stroke-width="1.3" stroke-linejoin="round"/>
<path d="M127.60,459.40L87.47,451.75A40.85,40.85 0 0 1 93.11,437.51Z" fill="#2200a2" stroke="#111" stroke-width="1.3" stroke-linejoin="round"/>
<path d="M127.60,459.40L93.11,437.51A40.85,40.85 0 0 1 127.60,418.55Z" fill="#bdcbd1" stroke="#111" stroke-width="1.3" stroke-linejoin="round"/>
<circle cx="127.6" cy="459.4" r="40.85" fill="none" stroke="#111" stroke-width="1.3"/>
<text x="69.0" y="440.2" font-size="9.3" font-weight="bold" text-anchor="start" fill="#111" stroke="#111" stroke-width="0.3" textLength="13.6" lengthAdjust="spacingAndGlyphs" >6%</text>
<line x1="84.3" y1="438.0" x2="90.8" y2="440.3" stroke="#111" stroke-width="0.9"/>
<text x="103.0" y="435.8" font-size="9.3" font-weight="bold" text-anchor="start" fill="#fff" textLength="17.6" lengthAdjust="spacingAndGlyphs" >16%</text>
<text x="126.7" y="480.2" font-size="9.3" font-weight="bold" text-anchor="start" fill="#fff" textLength="19.9" lengthAdjust="spacingAndGlyphs" >78%</text>
<text x="161.9" y="498.5" font-size="9.6" font-weight="normal" text-anchor="start" fill="#111" stroke="#111" stroke-width="0.15" textLength="27.0" lengthAdjust="spacingAndGlyphs" >n = 32</text>
<text x="264.0" y="407.2" font-size="10.0" font-weight="bold" text-anchor="start" fill="#111" stroke="#111" stroke-width="0.3" textLength="24.3" lengthAdjust="spacingAndGlyphs" >CALR</text>
<text x="288.5" y="403.6" font-size="5.0" font-weight="bold" text-anchor="start" fill="#111" stroke="#111" stroke-width="0.2" textLength="4.7" lengthAdjust="spacingAndGlyphs" >m</text>
<path d="M282.10,458.80L282.10,417.80A41.0,41.0 0 1 1 241.83,466.48Z" fill="#ff7c00" stroke="#111" stroke-width="1.3" stroke-linejoin="round"/>
<path d="M282.10,458.80L241.83,466.48A41.0,41.0 0 0 1 242.39,448.60Z" fill="#2200a2" stroke="#111" stroke-width="1.3" stroke-linejoin="round"/>
<path d="M282.10,458.80L242.39,448.60A41.0,41.0 0 0 1 282.10,417.80Z" fill="#bdcbd1" stroke="#111" stroke-width="1.3" stroke-linejoin="round"/>
<circle cx="282.1" cy="458.8" r="41.0" fill="none" stroke="#111" stroke-width="1.3"/>
<text x="257.0" y="443.5" font-size="9.3" font-weight="bold" text-anchor="start" fill="#fff" textLength="19.8" lengthAdjust="spacingAndGlyphs" >21%</text>
<text x="244.4" y="462.2" font-size="9.3" font-weight="bold" text-anchor="start" fill="#fff" textLength="13.8" lengthAdjust="spacingAndGlyphs" >7%</text>
<text x="280.2" y="480.1" font-size="9.3" font-weight="bold" text-anchor="start" fill="#fff" textLength="19.8" lengthAdjust="spacingAndGlyphs" >72%</text>
<text x="319.8" y="497.0" font-size="9.6" font-weight="normal" text-anchor="start" fill="#111" stroke="#111" stroke-width="0.15" textLength="26.9" lengthAdjust="spacingAndGlyphs" >n = 14</text>
<rect x="349.2" y="423.7" width="12.4" height="6.8" fill="#0034ac" stroke="#111" stroke-width="0.9"/>
<rect x="349.2" y="436.7" width="12.4" height="6.8" fill="#ff7c00" stroke="#111" stroke-width="0.9"/>
<rect x="349.2" y="450.2" width="12.4" height="6.8" fill="#bdcbd1" stroke="#111" stroke-width="0.9"/>
<rect x="349.2" y="463.5" width="12.4" height="6.8" fill="#2200a2" stroke="#111" stroke-width="0.9"/>
<text x="364.6" y="430.8" font-size="9.4" fill="#111" textLength="143.6" lengthAdjust="spacingAndGlyphs"><tspan font-style="italic">JAK2</tspan><tspan font-size="4.7" dy="-3.0">V617F</tspan><tspan dy="3.0"> hematologic responders</tspan></text>
<text x="364.6" y="444.1" font-size="9.4" fill="#111" textLength="133.2" lengthAdjust="spacingAndGlyphs"><tspan font-style="italic">CALR</tspan><tspan font-size="4.9" dy="-2.9">m</tspan><tspan dy="2.9"> hematologic responders</tspan></text>
<text x="364.6" y="456.9" font-size="9.4" font-weight="normal" text-anchor="start" fill="#111" stroke="#111" stroke-width="0.15" textLength="104.6" lengthAdjust="spacingAndGlyphs" >Intolerance (side effects)</text>
<text x="364.6" y="470.4" font-size="9.4" font-weight="normal" text-anchor="start" fill="#111" stroke="#111" stroke-width="0.15" textLength="70.0" lengthAdjust="spacingAndGlyphs" >Non-responders</text>
<rect x="0.6" y="0.6" width="518.8" height="506.8" fill="none" stroke="#000" stroke-width="1.6"/>
</svg>
</body></html>
